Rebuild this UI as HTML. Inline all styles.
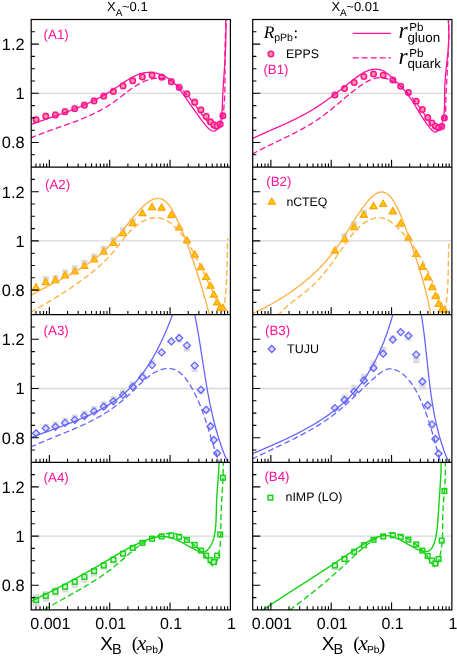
<!DOCTYPE html>
<html><head><meta charset="utf-8"><title>plot</title>
<style>html,body{margin:0;padding:0;background:#fff}svg{display:block}text{font-family:"Liberation Sans",sans-serif;fill:#000;text-rendering:geometricPrecision}.s{font-family:"Liberation Serif",serif;font-style:italic}.p{fill:#ff1199}</style></head>
<body>
<svg width="457" height="656" viewBox="0 0 457 656">
<rect width="457" height="656" fill="#fff"/>
<defs>
<clipPath id="c00"><rect x="31.2" y="19.50" width="199.20" height="147.60"/></clipPath>
<clipPath id="m00"><rect x="31.2" y="19.00" width="199.20" height="148.80"/></clipPath>
<clipPath id="c01"><rect x="31.2" y="167.10" width="199.20" height="147.60"/></clipPath>
<clipPath id="m01"><rect x="31.2" y="166.60" width="199.20" height="148.80"/></clipPath>
<clipPath id="c02"><rect x="31.2" y="314.70" width="199.20" height="147.60"/></clipPath>
<clipPath id="m02"><rect x="31.2" y="314.20" width="199.20" height="148.80"/></clipPath>
<clipPath id="c03"><rect x="31.2" y="462.30" width="199.20" height="147.60"/></clipPath>
<clipPath id="m03"><rect x="31.2" y="461.80" width="199.20" height="148.80"/></clipPath>
<clipPath id="c10"><rect x="252.7" y="19.50" width="199.20" height="147.60"/></clipPath>
<clipPath id="m10"><rect x="252.7" y="19.00" width="199.20" height="148.80"/></clipPath>
<clipPath id="c11"><rect x="252.7" y="167.10" width="199.20" height="147.60"/></clipPath>
<clipPath id="m11"><rect x="252.7" y="166.60" width="199.20" height="148.80"/></clipPath>
<clipPath id="c12"><rect x="252.7" y="314.70" width="199.20" height="147.60"/></clipPath>
<clipPath id="m12"><rect x="252.7" y="314.20" width="199.20" height="148.80"/></clipPath>
<clipPath id="c13"><rect x="252.7" y="462.30" width="199.20" height="147.60"/></clipPath>
<clipPath id="m13"><rect x="252.7" y="461.80" width="199.20" height="148.80"/></clipPath>
</defs>
<g clip-path="url(#c00)">
<line x1="31.2" x2="230.4" y1="93.30" y2="93.30" stroke="#d9d9d9" stroke-width="1.3"/>
</g>
<g clip-path="url(#m00)">
<rect x="33.00" y="115.50" width="6.2" height="4.20" fill="#dcdcdc"/>
<rect x="42.66" y="112.10" width="6.2" height="4.20" fill="#dcdcdc"/>
<rect x="52.32" y="110.90" width="6.2" height="4.20" fill="#dcdcdc"/>
<rect x="61.98" y="107.60" width="6.2" height="4.20" fill="#dcdcdc"/>
<rect x="71.64" y="104.50" width="6.2" height="4.20" fill="#dcdcdc"/>
<rect x="81.30" y="101.00" width="6.2" height="4.20" fill="#dcdcdc"/>
<rect x="90.96" y="96.80" width="6.2" height="4.20" fill="#dcdcdc"/>
<rect x="100.62" y="92.10" width="6.2" height="4.20" fill="#dcdcdc"/>
<rect x="110.28" y="87.20" width="6.2" height="4.20" fill="#dcdcdc"/>
<rect x="119.94" y="81.90" width="6.2" height="4.20" fill="#dcdcdc"/>
<rect x="129.60" y="76.50" width="6.2" height="4.20" fill="#dcdcdc"/>
<rect x="139.26" y="72.70" width="6.2" height="4.20" fill="#dcdcdc"/>
<rect x="148.92" y="71.00" width="6.2" height="4.20" fill="#dcdcdc"/>
<rect x="158.58" y="73.00" width="6.2" height="4.20" fill="#dcdcdc"/>
<rect x="168.24" y="77.60" width="6.2" height="4.20" fill="#dcdcdc"/>
<rect x="176.10" y="83.20" width="6.2" height="4.20" fill="#dcdcdc"/>
<rect x="183.80" y="89.70" width="6.2" height="4.20" fill="#dcdcdc"/>
<rect x="191.60" y="98.10" width="6.2" height="4.20" fill="#dcdcdc"/>
<rect x="197.80" y="105.90" width="6.2" height="4.20" fill="#dcdcdc"/>
<rect x="203.10" y="112.30" width="6.2" height="4.20" fill="#dcdcdc"/>
<rect x="207.40" y="117.70" width="6.2" height="4.20" fill="#dcdcdc"/>
<rect x="210.80" y="120.80" width="6.2" height="4.20" fill="#dcdcdc"/>
<rect x="214.00" y="121.70" width="6.2" height="4.20" fill="#dcdcdc"/>
<rect x="217.10" y="120.00" width="6.2" height="4.20" fill="#dcdcdc"/>
<rect x="219.80" y="111.60" width="6.2" height="4.20" fill="#dcdcdc"/>
<circle cx="36.10" cy="119.70" r="2.75" fill="#ff9590" stroke="#ff1199" stroke-width="1.5"/>
<circle cx="45.76" cy="116.30" r="2.75" fill="#ff9590" stroke="#ff1199" stroke-width="1.5"/>
<circle cx="55.42" cy="115.10" r="2.75" fill="#ff9590" stroke="#ff1199" stroke-width="1.5"/>
<circle cx="65.08" cy="111.80" r="2.75" fill="#ff9590" stroke="#ff1199" stroke-width="1.5"/>
<circle cx="74.74" cy="108.70" r="2.75" fill="#ff9590" stroke="#ff1199" stroke-width="1.5"/>
<circle cx="84.40" cy="105.20" r="2.75" fill="#ff9590" stroke="#ff1199" stroke-width="1.5"/>
<circle cx="94.06" cy="101.00" r="2.75" fill="#ff9590" stroke="#ff1199" stroke-width="1.5"/>
<circle cx="103.72" cy="96.30" r="2.75" fill="#ff9590" stroke="#ff1199" stroke-width="1.5"/>
<circle cx="113.38" cy="91.40" r="2.75" fill="#ff9590" stroke="#ff1199" stroke-width="1.5"/>
<circle cx="123.04" cy="86.10" r="2.75" fill="#ff9590" stroke="#ff1199" stroke-width="1.5"/>
<circle cx="132.70" cy="80.70" r="2.75" fill="#ff9590" stroke="#ff1199" stroke-width="1.5"/>
<circle cx="142.36" cy="76.90" r="2.75" fill="#ff9590" stroke="#ff1199" stroke-width="1.5"/>
<circle cx="152.02" cy="75.20" r="2.75" fill="#ff9590" stroke="#ff1199" stroke-width="1.5"/>
<circle cx="161.68" cy="77.20" r="2.75" fill="#ff9590" stroke="#ff1199" stroke-width="1.5"/>
<circle cx="171.34" cy="81.80" r="2.75" fill="#ff9590" stroke="#ff1199" stroke-width="1.5"/>
<circle cx="179.20" cy="87.40" r="2.75" fill="#ff9590" stroke="#ff1199" stroke-width="1.5"/>
<circle cx="186.90" cy="93.90" r="2.75" fill="#ff9590" stroke="#ff1199" stroke-width="1.5"/>
<circle cx="194.70" cy="102.30" r="2.75" fill="#ff9590" stroke="#ff1199" stroke-width="1.5"/>
<circle cx="200.90" cy="110.10" r="2.75" fill="#ff9590" stroke="#ff1199" stroke-width="1.5"/>
<circle cx="206.20" cy="116.50" r="2.75" fill="#ff9590" stroke="#ff1199" stroke-width="1.5"/>
<circle cx="210.50" cy="121.90" r="2.75" fill="#ff9590" stroke="#ff1199" stroke-width="1.5"/>
<circle cx="213.90" cy="125.00" r="2.75" fill="#ff9590" stroke="#ff1199" stroke-width="1.5"/>
<circle cx="217.10" cy="125.90" r="2.75" fill="#ff9590" stroke="#ff1199" stroke-width="1.5"/>
<circle cx="220.20" cy="124.20" r="2.75" fill="#ff9590" stroke="#ff1199" stroke-width="1.5"/>
<circle cx="222.90" cy="115.80" r="2.75" fill="#ff9590" stroke="#ff1199" stroke-width="1.5"/>
</g>
<g clip-path="url(#c00)" fill="none" stroke="#ff1199" stroke-width="1.3" stroke-linejoin="round">
<path d="M31.20,124.50L32.64,123.97L34.08,123.45L35.52,122.94L36.96,122.42L38.39,121.91L39.83,121.41L41.26,120.90L42.69,120.40L44.13,119.90L45.55,119.40L46.98,118.90L48.41,118.41L49.84,117.91L51.26,117.42L52.68,116.92L54.10,116.42L55.52,115.93L56.94,115.43L58.35,114.93L59.77,114.43L61.18,113.93L62.59,113.42L64.00,112.91L65.40,112.40L66.81,111.89L68.21,111.37L69.61,110.84L71.00,110.31L72.40,109.78L73.79,109.24L75.18,108.70L76.57,108.15L77.95,107.59L79.34,107.03L80.72,106.46L82.09,105.88L83.47,105.30L84.84,104.71L86.21,104.11L87.58,103.50L88.94,102.88L90.30,102.25L91.66,101.61L93.01,100.96L94.37,100.30L95.71,99.64L97.06,98.95L98.40,98.26L99.74,97.56L101.08,96.84L102.41,96.12L103.74,95.37L105.06,94.62L106.39,93.85L107.70,93.07L109.02,92.27L110.33,91.46L111.64,90.64L112.94,89.80L114.24,88.94L115.54,88.07L116.83,87.19L118.12,86.31L119.42,85.42L120.71,84.53L122.00,83.65L123.29,82.77L124.58,81.91L125.87,81.06L127.17,80.23L128.47,79.43L129.78,78.64L131.09,77.89L132.40,77.17L133.73,76.49L135.06,75.84L136.39,75.24L137.74,74.69L139.09,74.18L140.45,73.73L141.83,73.34L143.21,73.01L144.61,72.74L146.02,72.54L147.44,72.41L148.87,72.36L150.32,72.38L151.78,72.48L153.24,72.65L154.71,72.89L156.17,73.20L157.63,73.58L159.09,74.02L160.53,74.53L161.96,75.10L163.37,75.73L164.76,76.42L166.13,77.16L167.47,77.96L168.77,78.81L170.05,79.72L171.28,80.67L172.48,81.67L173.63,82.71L174.75,83.80L175.83,84.91L176.87,86.06L177.89,87.23L178.87,88.42L179.83,89.63L180.77,90.85L181.68,92.08L182.57,93.31L183.44,94.54L184.30,95.76L185.14,96.97L185.97,98.17L186.79,99.35L187.61,100.53L188.41,101.69L189.22,102.85L190.03,104.01L190.83,105.17L191.64,106.33L192.46,107.49L193.28,108.66L194.12,109.84L194.96,111.03L195.82,112.24L196.70,113.46L197.60,114.70L198.52,115.96L199.46,117.25L200.42,118.56L201.42,119.90L202.44,121.28L203.50,122.68L204.58,124.08L205.69,125.44L206.82,126.74L207.97,127.93L209.13,128.99L210.29,129.86L211.47,130.53L212.64,130.95L213.80,131.10L214.91,130.92L215.92,130.40L216.83,129.58L217.65,128.54L218.37,127.32L219.02,125.97L219.59,124.57L220.08,123.15L220.51,121.70L220.88,120.23L221.19,118.75L221.45,117.25L221.66,115.73L221.84,114.21L221.98,112.68L222.09,111.14L222.18,109.59L222.25,108.04L222.31,106.49L222.36,104.95L222.41,103.40L222.46,101.86L222.52,100.33L222.58,98.80L222.65,97.28L222.72,95.76L222.80,94.25L222.88,92.74L222.96,91.24L223.04,89.73L223.13,88.24L223.22,86.74L223.31,85.25L223.41,83.76L223.50,82.28L223.60,80.79L223.70,79.31L223.80,77.83L223.90,76.36L224.00,74.88L224.10,73.41L224.20,71.93L224.30,70.46L224.40,68.99L224.49,67.51L224.59,66.04L224.69,64.57L224.78,63.09L224.87,61.62L224.96,60.14L225.05,58.67L225.13,57.19L225.22,55.71L225.29,54.22L225.37,52.74L225.44,51.25L225.51,49.76L225.57,48.27L225.63,46.77L225.68,45.27L225.73,43.77L225.77,42.26L225.81,40.75L225.84,39.23L225.87,37.71L225.89,36.19L225.90,34.66L225.90,33.12L225.90,31.58L225.89,30.03L225.88,28.47L225.85,26.91L225.82,25.34L225.78,23.77L225.73,22.19L225.67,20.60L225.60,19.00"/>
<path d="M31.20,137.70L32.60,137.12L34.00,136.55L35.41,135.99L36.81,135.44L38.22,134.89L39.63,134.35L41.05,133.81L42.46,133.28L43.88,132.76L45.30,132.24L46.72,131.72L48.14,131.21L49.56,130.70L50.98,130.20L52.40,129.69L53.82,129.19L55.25,128.69L56.67,128.19L58.09,127.69L59.51,127.19L60.93,126.69L62.35,126.19L63.77,125.69L65.19,125.19L66.61,124.68L68.02,124.17L69.43,123.66L70.84,123.15L72.25,122.63L73.66,122.10L75.06,121.57L76.47,121.04L77.87,120.50L79.26,119.95L80.65,119.40L82.04,118.84L83.43,118.27L84.81,117.69L86.19,117.11L87.56,116.51L88.93,115.91L90.30,115.29L91.66,114.67L93.01,114.03L94.36,113.38L95.71,112.72L97.05,112.05L98.38,111.37L99.71,110.67L101.03,109.96L102.35,109.23L103.66,108.49L104.96,107.74L106.26,106.96L107.55,106.18L108.83,105.37L110.11,104.55L111.38,103.71L112.64,102.86L113.89,101.98L115.14,101.09L116.38,100.18L117.61,99.27L118.84,98.34L120.07,97.40L121.29,96.46L122.51,95.52L123.73,94.57L124.95,93.63L126.17,92.70L127.39,91.77L128.62,90.85L129.85,89.95L131.08,89.06L132.32,88.19L133.57,87.34L134.82,86.51L136.08,85.70L137.35,84.92L138.63,84.18L139.93,83.46L141.23,82.78L142.55,82.14L143.88,81.54L145.23,80.98L146.59,80.47L147.96,80.00L149.36,79.58L150.77,79.22L152.21,78.91L153.66,78.66L155.13,78.47L156.61,78.34L158.09,78.27L159.58,78.28L161.07,78.35L162.55,78.50L164.02,78.72L165.49,79.01L166.93,79.39L168.35,79.85L169.75,80.40L171.12,81.03L172.46,81.75L173.77,82.55L175.05,83.43L176.29,84.37L177.51,85.37L178.70,86.42L179.86,87.50L181.00,88.62L182.11,89.76L183.19,90.92L184.26,92.08L185.30,93.24L186.31,94.39L187.31,95.52L188.29,96.63L189.25,97.72L190.20,98.80L191.12,99.88L192.04,100.96L192.93,102.05L193.82,103.16L194.69,104.29L195.55,105.44L196.40,106.62L197.25,107.81L198.10,109.03L198.96,110.25L199.83,111.50L200.71,112.74L201.60,114.00L202.52,115.26L203.47,116.52L204.44,117.79L205.45,119.04L206.49,120.30L207.57,121.54L208.66,122.79L209.78,124.04L210.90,125.29L212.02,126.51L213.14,127.59L214.24,128.40L215.32,128.84L216.37,128.85L217.37,128.43L218.30,127.67L219.14,126.71L219.88,125.62L220.53,124.44L221.10,123.17L221.60,121.83L222.02,120.41L222.38,118.94L222.69,117.42L222.96,115.86L223.18,114.28L223.38,112.68L223.55,111.08L223.71,109.48L223.85,107.89L223.99,106.31L224.11,104.74L224.22,103.18L224.33,101.63L224.42,100.09L224.51,98.56L224.59,97.03L224.66,95.52L224.72,94.01L224.78,92.50L224.83,91.01L224.87,89.52L224.90,88.03L224.93,86.55L224.96,85.08L224.98,83.61L225.00,82.14L225.01,80.68L225.01,79.22L225.02,77.76L225.02,76.31L225.02,74.86L225.02,73.41L225.01,71.96L225.01,70.51L225.00,69.06L224.99,67.61L224.98,66.17L224.97,64.72L224.97,63.27L224.96,61.82L224.95,60.36L224.95,58.91L224.95,57.45L224.95,55.99L224.95,54.53L224.96,53.06L224.97,51.59L224.98,50.11L225.00,48.63L225.02,47.14L225.05,45.65L225.09,44.15L225.13,42.64L225.17,41.13L225.23,39.61L225.29,38.08L225.35,36.54L225.43,35.00L225.51,33.45L225.61,31.88L225.71,30.31L225.82,28.73L225.94,27.14L226.07,25.53L226.21,23.92L226.36,22.29L226.52,20.65L226.70,19.00" stroke-dasharray="6 3" stroke-dashoffset="0.8"/>
</g>
<g clip-path="url(#c01)">
<line x1="31.2" x2="230.4" y1="240.90" y2="240.90" stroke="#d9d9d9" stroke-width="1.3"/>
</g>
<g clip-path="url(#m01)">
<rect x="42.66" y="276.00" width="6.2" height="5.20" fill="#dcdcdc"/>
<rect x="52.32" y="275.10" width="6.2" height="4.20" fill="#dcdcdc"/>
<rect x="61.98" y="269.40" width="6.2" height="5.20" fill="#dcdcdc"/>
<rect x="71.64" y="265.30" width="6.2" height="5.20" fill="#dcdcdc"/>
<rect x="81.30" y="259.90" width="6.2" height="5.20" fill="#dcdcdc"/>
<rect x="90.96" y="253.40" width="6.2" height="5.20" fill="#dcdcdc"/>
<rect x="100.62" y="245.60" width="6.2" height="5.20" fill="#dcdcdc"/>
<rect x="110.28" y="236.90" width="6.2" height="5.20" fill="#dcdcdc"/>
<rect x="119.94" y="227.10" width="6.2" height="5.20" fill="#dcdcdc"/>
<rect x="129.60" y="217.70" width="6.2" height="4.60" fill="#dcdcdc"/>
<rect x="158.58" y="206.80" width="6.2" height="4.60" fill="#dcdcdc"/>
<rect x="168.24" y="214.10" width="6.2" height="4.60" fill="#dcdcdc"/>
<rect x="176.10" y="226.60" width="6.2" height="4.60" fill="#dcdcdc"/>
<rect x="183.80" y="239.40" width="6.2" height="4.60" fill="#dcdcdc"/>
<rect x="191.60" y="253.80" width="6.2" height="4.60" fill="#dcdcdc"/>
<path d="M36.10,283.80L39.55,289.80L32.65,289.80Z" fill="#ffcc00" stroke="#ffa500" stroke-width="1.3" stroke-linejoin="miter"/>
<path d="M45.76,278.50L49.21,284.50L42.31,284.50Z" fill="#ffcc00" stroke="#ffa500" stroke-width="1.3" stroke-linejoin="miter"/>
<path d="M55.42,276.60L58.87,282.60L51.97,282.60Z" fill="#ffcc00" stroke="#ffa500" stroke-width="1.3" stroke-linejoin="miter"/>
<path d="M65.08,271.90L68.53,277.90L61.63,277.90Z" fill="#ffcc00" stroke="#ffa500" stroke-width="1.3" stroke-linejoin="miter"/>
<path d="M74.74,267.80L78.19,273.80L71.29,273.80Z" fill="#ffcc00" stroke="#ffa500" stroke-width="1.3" stroke-linejoin="miter"/>
<path d="M84.40,262.40L87.85,268.40L80.95,268.40Z" fill="#ffcc00" stroke="#ffa500" stroke-width="1.3" stroke-linejoin="miter"/>
<path d="M94.06,255.90L97.51,261.90L90.61,261.90Z" fill="#ffcc00" stroke="#ffa500" stroke-width="1.3" stroke-linejoin="miter"/>
<path d="M103.72,248.10L107.17,254.10L100.27,254.10Z" fill="#ffcc00" stroke="#ffa500" stroke-width="1.3" stroke-linejoin="miter"/>
<path d="M113.38,239.40L116.83,245.40L109.93,245.40Z" fill="#ffcc00" stroke="#ffa500" stroke-width="1.3" stroke-linejoin="miter"/>
<path d="M123.04,229.60L126.49,235.60L119.59,235.60Z" fill="#ffcc00" stroke="#ffa500" stroke-width="1.3" stroke-linejoin="miter"/>
<path d="M132.70,219.60L136.15,225.60L129.25,225.60Z" fill="#ffcc00" stroke="#ffa500" stroke-width="1.3" stroke-linejoin="miter"/>
<path d="M142.36,209.70L145.81,215.70L138.91,215.70Z" fill="#ffcc00" stroke="#ffa500" stroke-width="1.3" stroke-linejoin="miter"/>
<path d="M152.02,203.60L155.47,209.60L148.57,209.60Z" fill="#ffcc00" stroke="#ffa500" stroke-width="1.3" stroke-linejoin="miter"/>
<path d="M161.68,204.10L165.13,210.10L158.23,210.10Z" fill="#ffcc00" stroke="#ffa500" stroke-width="1.3" stroke-linejoin="miter"/>
<path d="M171.34,211.40L174.79,217.40L167.89,217.40Z" fill="#ffcc00" stroke="#ffa500" stroke-width="1.3" stroke-linejoin="miter"/>
<path d="M179.20,223.90L182.65,229.90L175.75,229.90Z" fill="#ffcc00" stroke="#ffa500" stroke-width="1.3" stroke-linejoin="miter"/>
<path d="M186.90,236.70L190.35,242.70L183.45,242.70Z" fill="#ffcc00" stroke="#ffa500" stroke-width="1.3" stroke-linejoin="miter"/>
<path d="M194.70,251.10L198.15,257.10L191.25,257.10Z" fill="#ffcc00" stroke="#ffa500" stroke-width="1.3" stroke-linejoin="miter"/>
<path d="M200.90,263.70L204.35,269.70L197.45,269.70Z" fill="#ffcc00" stroke="#ffa500" stroke-width="1.3" stroke-linejoin="miter"/>
<path d="M206.20,273.30L209.65,279.30L202.75,279.30Z" fill="#ffcc00" stroke="#ffa500" stroke-width="1.3" stroke-linejoin="miter"/>
<path d="M210.50,282.20L213.95,288.20L207.05,288.20Z" fill="#ffcc00" stroke="#ffa500" stroke-width="1.3" stroke-linejoin="miter"/>
<path d="M213.90,291.00L217.35,297.00L210.45,297.00Z" fill="#ffcc00" stroke="#ffa500" stroke-width="1.3" stroke-linejoin="miter"/>
<path d="M217.10,298.90L220.55,304.90L213.65,304.90Z" fill="#ffcc00" stroke="#ffa500" stroke-width="1.3" stroke-linejoin="miter"/>
<path d="M220.20,304.20L223.65,310.20L216.75,310.20Z" fill="#ffcc00" stroke="#ffa500" stroke-width="1.3" stroke-linejoin="miter"/>
<path d="M222.90,304.30L226.35,310.30L219.45,310.30Z" fill="#ffcc00" stroke="#ffa500" stroke-width="1.3" stroke-linejoin="miter"/>
</g>
<g clip-path="url(#c01)" fill="none" stroke="#ffb145" stroke-width="1.35" stroke-linejoin="round">
<path d="M31.20,295.10L32.49,294.38L33.79,293.66L35.10,292.94L36.41,292.23L37.73,291.52L39.05,290.82L40.38,290.12L41.71,289.42L43.04,288.72L44.38,288.03L45.72,287.34L47.07,286.64L48.42,285.95L49.76,285.26L51.12,284.57L52.47,283.87L53.82,283.18L55.17,282.49L56.53,281.79L57.88,281.09L59.24,280.39L60.59,279.69L61.94,278.99L63.29,278.28L64.64,277.56L65.98,276.85L67.32,276.13L68.66,275.40L70.00,274.67L71.33,273.93L72.66,273.19L73.99,272.44L75.30,271.68L76.62,270.92L77.93,270.15L79.23,269.37L80.52,268.58L81.81,267.79L83.10,266.99L84.37,266.17L85.64,265.35L86.90,264.52L88.15,263.68L89.39,262.82L90.62,261.96L91.84,261.08L93.05,260.19L94.26,259.29L95.45,258.38L96.63,257.46L97.80,256.52L98.95,255.57L100.10,254.60L101.23,253.62L102.35,252.63L103.46,251.62L104.55,250.59L105.63,249.55L106.69,248.50L107.75,247.43L108.79,246.35L109.83,245.25L110.85,244.15L111.87,243.03L112.87,241.91L113.87,240.77L114.86,239.63L115.85,238.48L116.83,237.32L117.80,236.16L118.77,234.99L119.74,233.82L120.71,232.64L121.67,231.46L122.63,230.27L123.59,229.08L124.55,227.90L125.51,226.71L126.47,225.52L127.44,224.33L128.40,223.14L129.37,221.96L130.35,220.78L131.33,219.60L132.31,218.43L133.31,217.26L134.30,216.10L135.31,214.95L136.32,213.80L137.35,212.66L138.38,211.53L139.42,210.41L140.48,209.29L141.54,208.19L142.62,207.10L143.71,206.03L144.82,204.98L145.95,203.96L147.09,203.00L148.26,202.09L149.45,201.25L150.68,200.50L151.93,199.85L153.21,199.30L154.53,198.87L155.89,198.58L157.26,198.43L158.63,198.43L159.96,198.60L161.23,198.94L162.46,199.44L163.63,200.07L164.76,200.84L165.85,201.72L166.89,202.71L167.89,203.80L168.86,204.96L169.79,206.20L170.68,207.51L171.54,208.86L172.38,210.26L173.18,211.70L173.96,213.16L174.71,214.63L175.44,216.11L176.16,217.58L176.85,219.03L177.53,220.48L178.19,221.91L178.83,223.33L179.46,224.74L180.08,226.13L180.68,227.52L181.27,228.91L181.85,230.28L182.42,231.66L182.98,233.02L183.53,234.39L184.08,235.75L184.62,237.12L185.15,238.48L185.67,239.85L186.20,241.22L186.71,242.59L187.23,243.97L187.74,245.35L188.25,246.74L188.76,248.13L189.27,249.53L189.77,250.93L190.27,252.34L190.77,253.75L191.27,255.17L191.76,256.59L192.25,258.01L192.74,259.44L193.23,260.87L193.71,262.30L194.19,263.74L194.67,265.18L195.15,266.62L195.62,268.06L196.09,269.51L196.56,270.96L197.03,272.41L197.49,273.86L197.95,275.32L198.41,276.77L198.87,278.23L199.32,279.69L199.77,281.15L200.22,282.61L200.66,284.07L201.11,285.53L201.55,286.99L201.98,288.45L202.42,289.91L202.85,291.37L203.28,292.83L203.71,294.29L204.13,295.75L204.56,297.21L204.97,298.67L205.39,300.12L205.81,301.58L206.22,303.03L206.63,304.48L207.03,305.93L207.44,307.38L207.84,308.82L208.23,310.26L208.63,311.70L209.02,313.14L209.41,314.57L209.80,316.00"/>
<path d="M31.20,312.00L32.53,311.24L33.86,310.48L35.19,309.72L36.51,308.96L37.83,308.20L39.14,307.44L40.45,306.68L41.76,305.92L43.07,305.16L44.37,304.39L45.67,303.63L46.96,302.86L48.26,302.09L49.54,301.32L50.83,300.55L52.11,299.77L53.39,299.00L54.67,298.22L55.94,297.43L57.21,296.65L58.48,295.86L59.75,295.06L61.01,294.27L62.27,293.47L63.52,292.66L64.77,291.86L66.02,291.04L67.27,290.23L68.52,289.40L69.76,288.58L71.00,287.74L72.23,286.91L73.46,286.06L74.69,285.22L75.92,284.36L77.15,283.50L78.37,282.64L79.59,281.76L80.80,280.88L82.02,280.00L83.23,279.10L84.44,278.20L85.64,277.29L86.85,276.38L88.05,275.46L89.24,274.53L90.43,273.59L91.62,272.64L92.80,271.68L93.97,270.72L95.14,269.75L96.30,268.76L97.45,267.77L98.60,266.77L99.74,265.76L100.86,264.74L101.98,263.71L103.09,262.67L104.19,261.62L105.28,260.56L106.35,259.49L107.41,258.40L108.47,257.31L109.50,256.20L110.53,255.09L111.54,253.96L112.54,252.82L113.52,251.67L114.48,250.50L115.43,249.33L116.37,248.14L117.31,246.95L118.23,245.76L119.15,244.56L120.06,243.37L120.98,242.17L121.89,240.98L122.81,239.79L123.73,238.61L124.66,237.44L125.60,236.28L126.56,235.13L127.52,234.00L128.51,232.88L129.51,231.79L130.53,230.72L131.57,229.67L132.64,228.64L133.73,227.64L134.86,226.68L136.01,225.74L137.20,224.84L138.42,223.97L139.68,223.14L140.98,222.35L142.32,221.60L143.70,220.89L145.12,220.24L146.57,219.64L148.04,219.11L149.53,218.65L151.03,218.26L152.52,217.97L154.02,217.77L155.50,217.67L156.96,217.68L158.40,217.79L159.82,218.02L161.21,218.34L162.58,218.76L163.93,219.26L165.25,219.85L166.55,220.52L167.83,221.26L169.08,222.06L170.31,222.93L171.52,223.85L172.70,224.82L173.85,225.84L174.98,226.90L176.09,227.99L177.17,229.11L178.23,230.26L179.27,231.42L180.28,232.59L181.26,233.78L182.22,234.98L183.16,236.19L184.08,237.41L184.98,238.64L185.86,239.88L186.72,241.13L187.56,242.39L188.38,243.66L189.19,244.93L189.98,246.21L190.76,247.50L191.52,248.80L192.27,250.10L193.00,251.41L193.73,252.72L194.44,254.04L195.14,255.36L195.84,256.68L196.52,258.01L197.20,259.34L197.87,260.67L198.54,262.01L199.20,263.34L199.85,264.67L200.50,266.01L201.15,267.34L201.79,268.68L202.44,270.01L203.08,271.35L203.72,272.68L204.36,274.02L205.00,275.36L205.63,276.70L206.27,278.04L206.91,279.39L207.54,280.74L208.18,282.09L208.82,283.45L209.46,284.82L210.10,286.19L210.74,287.57L211.38,288.96L212.03,290.35L212.68,291.75L213.33,293.16L213.98,294.58L214.64,296.01L215.29,297.45L215.96,298.90L216.62,300.36L217.30,301.83L217.97,303.31L218.65,304.79L219.31,306.23L219.97,307.61L220.60,308.90L221.20,310.08L221.77,311.01L222.30,311.50L222.77,311.40L223.19,310.79L223.55,309.81L223.86,308.54L224.13,307.05L224.36,305.41L224.58,303.71L224.78,302.01L224.96,300.33L225.14,298.67L225.31,297.03L225.46,295.41L225.61,293.80L225.75,292.20L225.87,290.63L225.99,289.06L226.11,287.52L226.21,285.98L226.31,284.45L226.40,282.94L226.48,281.43L226.56,279.94L226.63,278.45L226.69,276.97L226.75,275.49L226.81,274.03L226.86,272.56L226.91,271.10L226.95,269.65L226.99,268.19L227.03,266.74L227.06,265.28L227.10,263.83L227.13,262.37L227.16,260.92L227.19,259.46L227.22,257.99L227.24,256.52L227.27,255.05L227.30,253.57L227.33,252.08L227.36,250.58L227.39,249.07L227.43,247.56L227.47,246.03L227.51,244.49L227.55,242.94L227.60,241.37L227.65,239.79L227.70,238.20" stroke-dasharray="6 3" stroke-dashoffset="0.8"/>
</g>
<g clip-path="url(#c02)">
<line x1="31.2" x2="230.4" y1="388.50" y2="388.50" stroke="#d9d9d9" stroke-width="1.3"/>
</g>
<g clip-path="url(#m02)">
<rect x="42.66" y="424.30" width="6.2" height="4.00" fill="#dcdcdc"/>
<rect x="52.32" y="421.30" width="6.2" height="5.50" fill="#dcdcdc"/>
<rect x="61.98" y="417.40" width="6.2" height="5.50" fill="#dcdcdc"/>
<rect x="71.64" y="414.40" width="6.2" height="5.50" fill="#dcdcdc"/>
<rect x="81.30" y="410.50" width="6.2" height="5.50" fill="#dcdcdc"/>
<rect x="90.96" y="405.90" width="6.2" height="5.50" fill="#dcdcdc"/>
<rect x="100.62" y="401.20" width="6.2" height="5.50" fill="#dcdcdc"/>
<rect x="110.28" y="395.80" width="6.2" height="5.50" fill="#dcdcdc"/>
<rect x="119.94" y="389.40" width="6.2" height="5.50" fill="#dcdcdc"/>
<rect x="129.60" y="381.30" width="6.2" height="5.50" fill="#dcdcdc"/>
<rect x="139.26" y="371.80" width="6.2" height="5.50" fill="#dcdcdc"/>
<rect x="148.92" y="359.60" width="6.2" height="5.50" fill="#dcdcdc"/>
<rect x="176.10" y="338.00" width="6.2" height="4.20" fill="#dcdcdc"/>
<rect x="183.80" y="345.40" width="6.2" height="6.10" fill="#dcdcdc"/>
<rect x="191.60" y="365.60" width="6.2" height="6.40" fill="#dcdcdc"/>
<rect x="197.80" y="389.80" width="6.2" height="4.50" fill="#dcdcdc"/>
<rect x="203.10" y="409.80" width="6.2" height="3.00" fill="#dcdcdc"/>
<path d="M36.10,429.80L39.60,433.30L36.10,436.80L32.60,433.30Z" fill="#dcdcff" stroke="#6464ff" stroke-width="1.3"/>
<path d="M45.76,424.80L49.26,428.30L45.76,431.80L42.26,428.30Z" fill="#dcdcff" stroke="#6464ff" stroke-width="1.3"/>
<path d="M55.42,423.30L58.92,426.80L55.42,430.30L51.92,426.80Z" fill="#dcdcff" stroke="#6464ff" stroke-width="1.3"/>
<path d="M65.08,419.40L68.58,422.90L65.08,426.40L61.58,422.90Z" fill="#dcdcff" stroke="#6464ff" stroke-width="1.3"/>
<path d="M74.74,416.40L78.24,419.90L74.74,423.40L71.24,419.90Z" fill="#dcdcff" stroke="#6464ff" stroke-width="1.3"/>
<path d="M84.40,412.50L87.90,416.00L84.40,419.50L80.90,416.00Z" fill="#dcdcff" stroke="#6464ff" stroke-width="1.3"/>
<path d="M94.06,407.90L97.56,411.40L94.06,414.90L90.56,411.40Z" fill="#dcdcff" stroke="#6464ff" stroke-width="1.3"/>
<path d="M103.72,403.20L107.22,406.70L103.72,410.20L100.22,406.70Z" fill="#dcdcff" stroke="#6464ff" stroke-width="1.3"/>
<path d="M113.38,397.80L116.88,401.30L113.38,404.80L109.88,401.30Z" fill="#dcdcff" stroke="#6464ff" stroke-width="1.3"/>
<path d="M123.04,391.40L126.54,394.90L123.04,398.40L119.54,394.90Z" fill="#dcdcff" stroke="#6464ff" stroke-width="1.3"/>
<path d="M132.70,383.30L136.20,386.80L132.70,390.30L129.20,386.80Z" fill="#dcdcff" stroke="#6464ff" stroke-width="1.3"/>
<path d="M142.36,373.80L145.86,377.30L142.36,380.80L138.86,377.30Z" fill="#dcdcff" stroke="#6464ff" stroke-width="1.3"/>
<path d="M152.02,361.60L155.52,365.10L152.02,368.60L148.52,365.10Z" fill="#dcdcff" stroke="#6464ff" stroke-width="1.3"/>
<path d="M161.68,348.90L165.18,352.40L161.68,355.90L158.18,352.40Z" fill="#dcdcff" stroke="#6464ff" stroke-width="1.3"/>
<path d="M171.34,337.90L174.84,341.40L171.34,344.90L167.84,341.40Z" fill="#dcdcff" stroke="#6464ff" stroke-width="1.3"/>
<path d="M179.20,334.50L182.70,338.00L179.20,341.50L175.70,338.00Z" fill="#dcdcff" stroke="#6464ff" stroke-width="1.3"/>
<path d="M186.90,341.90L190.40,345.40L186.90,348.90L183.40,345.40Z" fill="#dcdcff" stroke="#6464ff" stroke-width="1.3"/>
<path d="M194.70,362.10L198.20,365.60L194.70,369.10L191.20,365.60Z" fill="#dcdcff" stroke="#6464ff" stroke-width="1.3"/>
<path d="M200.90,386.30L204.40,389.80L200.90,393.30L197.40,389.80Z" fill="#dcdcff" stroke="#6464ff" stroke-width="1.3"/>
<path d="M206.20,406.30L209.70,409.80L206.20,413.30L202.70,409.80Z" fill="#dcdcff" stroke="#6464ff" stroke-width="1.3"/>
<path d="M210.50,422.70L214.00,426.20L210.50,429.70L207.00,426.20Z" fill="#dcdcff" stroke="#6464ff" stroke-width="1.3"/>
<path d="M213.90,436.50L217.40,440.00L213.90,443.50L210.40,440.00Z" fill="#dcdcff" stroke="#6464ff" stroke-width="1.3"/>
<path d="M217.10,449.80L220.60,453.30L217.10,456.80L213.60,453.30Z" fill="#dcdcff" stroke="#6464ff" stroke-width="1.3"/>
</g>
<g clip-path="url(#c02)" fill="none" stroke="#6464ff" stroke-width="1.3" stroke-linejoin="round">
<path d="M31.20,437.70L32.56,437.15L33.92,436.61L35.29,436.08L36.67,435.54L38.05,435.01L39.44,434.48L40.83,433.95L42.23,433.43L43.64,432.90L45.05,432.38L46.46,431.85L47.88,431.33L49.30,430.81L50.72,430.28L52.15,429.76L53.58,429.24L55.02,428.71L56.45,428.18L57.89,427.66L59.33,427.13L60.77,426.60L62.21,426.06L63.65,425.52L65.09,424.98L66.53,424.44L67.97,423.89L69.41,423.34L70.85,422.79L72.28,422.23L73.72,421.66L75.15,421.09L76.58,420.52L78.01,419.94L79.44,419.35L80.86,418.76L82.28,418.16L83.69,417.55L85.10,416.94L86.51,416.32L87.91,415.69L89.31,415.06L90.70,414.41L92.08,413.76L93.46,413.10L94.83,412.43L96.19,411.75L97.55,411.06L98.90,410.36L100.24,409.65L101.58,408.93L102.90,408.20L104.22,407.46L105.53,406.71L106.83,405.94L108.12,405.16L109.40,404.37L110.67,403.57L111.92,402.76L113.17,401.93L114.41,401.09L115.63,400.23L116.84,399.37L118.04,398.48L119.23,397.58L120.41,396.67L121.57,395.74L122.72,394.80L123.85,393.84L124.97,392.87L126.08,391.88L127.17,390.87L128.25,389.86L129.32,388.82L130.38,387.77L131.42,386.71L132.45,385.64L133.46,384.55L134.46,383.45L135.46,382.33L136.43,381.21L137.40,380.07L138.35,378.92L139.30,377.75L140.23,376.58L141.15,375.39L142.05,374.20L142.95,372.99L143.83,371.77L144.71,370.55L145.57,369.31L146.42,368.06L147.26,366.81L148.09,365.54L148.91,364.27L149.72,362.98L150.52,361.69L151.31,360.39L152.09,359.09L152.85,357.77L153.61,356.45L154.36,355.12L155.10,353.79L155.83,352.45L156.55,351.10L157.27,349.75L157.97,348.39L158.66,347.03L159.35,345.66L160.03,344.28L160.69,342.91L161.35,341.52L162.00,340.14L162.65,338.75L163.28,337.35L163.91,335.96L164.53,334.56L165.14,333.16L165.75,331.75L166.35,330.35L166.94,328.94L167.52,327.53L168.09,326.12L168.66,324.71L169.23,323.29L169.78,321.88L170.33,320.47L170.87,319.05L171.41,317.64L171.94,316.23L172.47,314.82L172.98,313.41L173.50,312.00"/>
<path d="M194.20,312.00L194.51,313.48L194.82,314.97L195.12,316.46L195.41,317.95L195.70,319.43L195.99,320.93L196.27,322.42L196.55,323.91L196.83,325.40L197.10,326.90L197.37,328.39L197.63,329.89L197.90,331.39L198.15,332.89L198.41,334.38L198.66,335.88L198.91,337.38L199.16,338.89L199.41,340.39L199.65,341.89L199.90,343.39L200.14,344.90L200.37,346.40L200.61,347.90L200.85,349.41L201.08,350.91L201.32,352.42L201.55,353.92L201.78,355.43L202.02,356.93L202.25,358.44L202.48,359.94L202.71,361.45L202.95,362.96L203.18,364.46L203.41,365.97L203.65,367.47L203.88,368.98L204.12,370.48L204.35,371.99L204.59,373.49L204.83,375.00L205.07,376.50L205.32,378.00L205.56,379.51L205.81,381.01L206.06,382.51L206.31,384.01L206.57,385.51L206.82,387.01L207.08,388.51L207.35,390.01L207.62,391.50L207.89,393.00L208.16,394.50L208.44,395.99L208.72,397.49L209.00,398.98L209.29,400.47L209.59,401.96L209.89,403.45L210.19,404.94L210.50,406.42L210.81,407.91L211.13,409.39L211.45,410.88L211.78,412.36L212.12,413.84L212.46,415.32L212.80,416.79L213.16,418.27L213.51,419.74L213.88,421.21L214.25,422.69L214.63,424.15L215.02,425.62L215.41,427.09L215.81,428.55L216.22,430.01L216.63,431.47L217.05,432.93L217.48,434.38L217.92,435.84L218.37,437.29L218.83,438.74L219.29,440.18L219.76,441.63L220.24,443.07L220.73,444.51L221.23,445.95L221.74,447.38L222.26,448.82L222.79,450.25L223.33,451.67L223.87,453.10L224.43,454.52L225.00,455.94L225.58,457.36L226.17,458.77L226.77,460.18L227.38,461.59L228.00,463.00"/>
<path d="M31.20,446.90L32.54,446.28L33.88,445.67L35.24,445.06L36.60,444.45L37.96,443.85L39.33,443.25L40.71,442.66L42.09,442.07L43.48,441.48L44.87,440.90L46.27,440.32L47.67,439.74L49.08,439.16L50.49,438.58L51.90,438.01L53.31,437.43L54.73,436.86L56.14,436.28L57.56,435.71L58.98,435.13L60.41,434.56L61.83,433.98L63.25,433.40L64.67,432.82L66.09,432.24L67.51,431.66L68.93,431.07L70.35,430.48L71.77,429.89L73.18,429.29L74.59,428.69L76.00,428.08L77.40,427.47L78.80,426.86L80.20,426.24L81.59,425.61L82.98,424.98L84.36,424.34L85.74,423.70L87.11,423.04L88.47,422.39L89.83,421.72L91.18,421.04L92.53,420.36L93.86,419.67L95.19,418.97L96.51,418.26L97.82,417.55L99.13,416.82L100.42,416.08L101.70,415.33L102.98,414.57L104.24,413.80L105.49,413.02L106.74,412.23L107.97,411.43L109.19,410.61L110.41,409.78L111.61,408.94L112.81,408.09L114.01,407.22L115.19,406.35L116.37,405.46L117.54,404.55L118.71,403.64L119.87,402.71L121.02,401.77L122.18,400.81L123.32,399.84L124.47,398.86L125.61,397.86L126.75,396.85L127.89,395.82L129.02,394.78L130.15,393.72L131.29,392.65L132.42,391.56L133.55,390.46L134.68,389.35L135.82,388.23L136.96,387.11L138.10,385.99L139.24,384.86L140.40,383.75L141.56,382.65L142.72,381.56L143.90,380.49L145.08,379.44L146.28,378.42L147.48,377.43L148.70,376.47L149.93,375.54L151.18,374.66L152.44,373.82L153.72,373.03L155.01,372.29L156.33,371.60L157.66,370.98L159.01,370.42L160.38,369.92L161.77,369.49L163.17,369.14L164.57,368.87L165.98,368.68L167.38,368.57L168.78,368.55L170.16,368.63L171.53,368.80L172.87,369.07L174.19,369.45L175.48,369.94L176.73,370.54L177.94,371.24L179.12,372.05L180.27,372.94L181.38,373.92L182.46,374.97L183.51,376.08L184.52,377.25L185.51,378.46L186.47,379.72L187.39,381.00L188.30,382.30L189.17,383.64L190.02,384.99L190.85,386.35L191.65,387.73L192.44,389.12L193.20,390.52L193.94,391.92L194.66,393.32L195.36,394.72L196.04,396.12L196.70,397.52L197.35,398.92L197.99,400.32L198.60,401.72L199.20,403.13L199.79,404.53L200.37,405.93L200.93,407.34L201.47,408.74L202.01,410.15L202.54,411.56L203.05,412.96L203.56,414.37L204.06,415.78L204.54,417.19L205.02,418.60L205.50,420.01L205.96,421.43L206.42,422.84L206.88,424.26L207.33,425.67L207.78,427.09L208.22,428.51L208.66,429.93L209.10,431.35L209.54,432.77L209.98,434.19L210.42,435.62L210.86,437.05L211.30,438.47L211.74,439.90L212.18,441.33L212.63,442.77L213.08,444.20L213.54,445.64L214.00,447.07L214.46,448.51L214.94,449.95L215.42,451.39L215.91,452.84L216.40,454.28L216.91,455.73L217.43,457.18L217.95,458.63L218.49,460.09L219.04,461.54L219.60,463.00" stroke-dasharray="6 3" stroke-dashoffset="0.8"/>
</g>
<g clip-path="url(#c03)">
<line x1="31.2" x2="230.4" y1="536.10" y2="536.10" stroke="#d9d9d9" stroke-width="1.3"/>
</g>
<g clip-path="url(#m03)">
<rect x="33.00" y="594.10" width="6.2" height="12.20" fill="#dcdcdc"/>
<rect x="42.66" y="591.00" width="6.2" height="10.70" fill="#dcdcdc"/>
<rect x="52.32" y="587.20" width="6.2" height="9.20" fill="#dcdcdc"/>
<rect x="61.98" y="584.10" width="6.2" height="8.40" fill="#dcdcdc"/>
<rect x="71.64" y="580.80" width="6.2" height="7.00" fill="#dcdcdc"/>
<rect x="81.30" y="576.80" width="6.2" height="5.80" fill="#dcdcdc"/>
<rect x="90.96" y="571.10" width="6.2" height="5.40" fill="#dcdcdc"/>
<rect x="100.62" y="565.50" width="6.2" height="4.20" fill="#dcdcdc"/>
<rect x="110.28" y="559.70" width="6.2" height="3.80" fill="#dcdcdc"/>
<rect x="33.75" y="597.55" width="4.70" height="4.70" fill="#d4f5d4" stroke="#14d214" stroke-width="1.4"/>
<rect x="43.41" y="593.55" width="4.70" height="4.70" fill="#d4f5d4" stroke="#14d214" stroke-width="1.4"/>
<rect x="53.07" y="589.15" width="4.70" height="4.70" fill="#d4f5d4" stroke="#14d214" stroke-width="1.4"/>
<rect x="62.73" y="584.35" width="4.70" height="4.70" fill="#d4f5d4" stroke="#14d214" stroke-width="1.4"/>
<rect x="72.39" y="579.45" width="4.70" height="4.70" fill="#d4f5d4" stroke="#14d214" stroke-width="1.4"/>
<rect x="82.05" y="574.45" width="4.70" height="4.70" fill="#d4f5d4" stroke="#14d214" stroke-width="1.4"/>
<rect x="91.71" y="568.75" width="4.70" height="4.70" fill="#d4f5d4" stroke="#14d214" stroke-width="1.4"/>
<rect x="101.37" y="563.15" width="4.70" height="4.70" fill="#d4f5d4" stroke="#14d214" stroke-width="1.4"/>
<rect x="111.03" y="557.35" width="4.70" height="4.70" fill="#d4f5d4" stroke="#14d214" stroke-width="1.4"/>
<rect x="120.69" y="551.35" width="4.70" height="4.70" fill="#d4f5d4" stroke="#14d214" stroke-width="1.4"/>
<rect x="130.35" y="545.55" width="4.70" height="4.70" fill="#d4f5d4" stroke="#14d214" stroke-width="1.4"/>
<rect x="140.01" y="540.55" width="4.70" height="4.70" fill="#d4f5d4" stroke="#14d214" stroke-width="1.4"/>
<rect x="149.67" y="536.35" width="4.70" height="4.70" fill="#d4f5d4" stroke="#14d214" stroke-width="1.4"/>
<rect x="159.33" y="534.05" width="4.70" height="4.70" fill="#d4f5d4" stroke="#14d214" stroke-width="1.4"/>
<rect x="168.99" y="532.95" width="4.70" height="4.70" fill="#d4f5d4" stroke="#14d214" stroke-width="1.4"/>
<rect x="176.85" y="534.45" width="4.70" height="4.70" fill="#d4f5d4" stroke="#14d214" stroke-width="1.4"/>
<rect x="184.55" y="537.55" width="4.70" height="4.70" fill="#d4f5d4" stroke="#14d214" stroke-width="1.4"/>
<rect x="192.35" y="542.55" width="4.70" height="4.70" fill="#d4f5d4" stroke="#14d214" stroke-width="1.4"/>
<rect x="198.55" y="548.25" width="4.70" height="4.70" fill="#d4f5d4" stroke="#14d214" stroke-width="1.4"/>
<rect x="203.85" y="553.25" width="4.70" height="4.70" fill="#d4f5d4" stroke="#14d214" stroke-width="1.4"/>
<rect x="208.15" y="557.85" width="4.70" height="4.70" fill="#d4f5d4" stroke="#14d214" stroke-width="1.4"/>
<rect x="211.55" y="559.75" width="4.70" height="4.70" fill="#d4f5d4" stroke="#14d214" stroke-width="1.4"/>
<rect x="214.75" y="553.25" width="4.70" height="4.70" fill="#d4f5d4" stroke="#14d214" stroke-width="1.4"/>
<rect x="217.85" y="532.15" width="4.70" height="4.70" fill="#d4f5d4" stroke="#14d214" stroke-width="1.4"/>
<rect x="220.55" y="475.45" width="4.70" height="4.70" fill="#d4f5d4" stroke="#14d214" stroke-width="1.4"/>
</g>
<g clip-path="url(#c03)" fill="none" stroke="#14d214" stroke-width="1.4" stroke-linejoin="round">
<path d="M31.20,601.30L32.59,600.63L33.97,599.96L35.35,599.29L36.72,598.61L38.09,597.94L39.46,597.26L40.83,596.59L42.19,595.91L43.55,595.23L44.90,594.56L46.26,593.88L47.61,593.20L48.96,592.51L50.30,591.83L51.65,591.15L52.99,590.46L54.33,589.77L55.66,589.09L57.00,588.40L58.33,587.70L59.66,587.01L60.99,586.32L62.32,585.62L63.64,584.92L64.96,584.22L66.29,583.52L67.61,582.82L68.93,582.11L70.24,581.40L71.56,580.70L72.88,579.98L74.19,579.27L75.51,578.56L76.82,577.84L78.13,577.12L79.44,576.40L80.75,575.67L82.06,574.94L83.37,574.22L84.68,573.48L85.99,572.75L87.30,572.01L88.61,571.27L89.92,570.53L91.23,569.79L92.54,569.04L93.85,568.29L95.16,567.54L96.47,566.78L97.78,566.02L99.10,565.26L100.41,564.49L101.72,563.72L103.04,562.95L104.35,562.18L105.67,561.40L106.98,560.62L108.30,559.84L109.62,559.06L110.95,558.28L112.27,557.50L113.59,556.72L114.92,555.94L116.25,555.17L117.58,554.39L118.91,553.63L120.24,552.86L121.58,552.10L122.91,551.35L124.25,550.61L125.60,549.87L126.94,549.14L128.29,548.41L129.64,547.70L130.99,547.00L132.35,546.30L133.71,545.62L135.07,544.95L136.43,544.30L137.80,543.65L139.17,543.02L140.54,542.41L141.92,541.81L143.30,541.22L144.68,540.65L146.07,540.11L147.46,539.59L148.86,539.10L150.26,538.64L151.66,538.21L153.07,537.83L154.48,537.49L155.89,537.20L157.31,536.95L158.74,536.76L160.17,536.63L161.60,536.56L163.04,536.55L164.48,536.61L165.93,536.75L167.38,536.96L168.84,537.24L170.30,537.61L171.76,538.04L173.22,538.53L174.68,539.08L176.14,539.68L177.59,540.32L179.04,541.00L180.48,541.72L181.91,542.46L183.33,543.23L184.75,544.01L186.16,544.80L187.56,545.59L188.97,546.38L190.37,547.16L191.77,547.93L193.16,548.68L194.56,549.40L195.96,550.09L197.35,550.72L198.73,551.27L200.09,551.70L201.43,551.97L202.73,552.06L203.99,551.92L205.19,551.53L206.34,550.86L207.42,549.96L208.43,548.89L209.35,547.74L210.19,546.54L210.95,545.31L211.63,544.04L212.23,542.75L212.77,541.42L213.25,540.06L213.67,538.68L214.04,537.27L214.37,535.84L214.65,534.39L214.89,532.91L215.11,531.42L215.30,529.91L215.47,528.39L215.61,526.85L215.74,525.30L215.85,523.74L215.95,522.17L216.03,520.60L216.10,519.02L216.16,517.43L216.22,515.84L216.26,514.26L216.30,512.67L216.34,511.09L216.38,509.51L216.41,507.94L216.45,506.38L216.49,504.82L216.54,503.28L216.59,501.75L216.65,500.23L216.72,498.73L216.80,497.25L216.88,495.77L216.98,494.31L217.08,492.85L217.18,491.41L217.29,489.97L217.40,488.53L217.51,487.09L217.63,485.66L217.75,484.23L217.86,482.79L217.98,481.36L218.09,479.91L218.20,478.46L218.31,477.01L218.41,475.54L218.51,474.06L218.60,472.57L218.68,471.07L218.76,469.54L218.83,468.01L218.88,466.45L218.93,464.87L218.97,463.27L218.99,461.65L219.00,460.00"/>
<path d="M42.50,611.00L43.78,610.20L45.06,609.41L46.35,608.62L47.64,607.84L48.94,607.07L50.24,606.30L51.54,605.53L52.84,604.77L54.15,604.01L55.46,603.25L56.77,602.50L58.08,601.75L59.40,601.00L60.71,600.26L62.03,599.51L63.35,598.77L64.67,598.03L65.99,597.29L67.31,596.54L68.63,595.80L69.95,595.06L71.27,594.32L72.59,593.58L73.91,592.84L75.23,592.09L76.55,591.35L77.86,590.60L79.18,589.85L80.49,589.09L81.80,588.34L83.11,587.58L84.41,586.81L85.72,586.04L87.01,585.27L88.31,584.49L89.60,583.71L90.89,582.92L92.18,582.13L93.46,581.33L94.73,580.52L96.01,579.71L97.27,578.89L98.54,578.07L99.79,577.23L101.04,576.39L102.29,575.54L103.53,574.68L104.76,573.81L105.99,572.94L107.21,572.05L108.42,571.15L109.63,570.25L110.83,569.33L112.02,568.40L113.20,567.46L114.38,566.51L115.55,565.55L116.71,564.58L117.87,563.60L119.02,562.62L120.17,561.63L121.31,560.64L122.46,559.64L123.60,558.64L124.74,557.65L125.89,556.65L127.03,555.65L128.18,554.66L129.33,553.68L130.49,552.70L131.65,551.73L132.82,550.76L133.99,549.81L135.18,548.87L136.37,547.94L137.57,547.02L138.78,546.12L140.01,545.24L141.24,544.37L142.50,543.53L143.76,542.70L145.04,541.90L146.34,541.11L147.65,540.36L148.98,539.62L150.33,538.92L151.70,538.24L153.09,537.59L154.50,536.98L155.93,536.40L157.37,535.86L158.82,535.37L160.28,534.92L161.75,534.52L163.22,534.17L164.70,533.88L166.18,533.65L167.66,533.48L169.13,533.38L170.60,533.35L172.06,533.40L173.51,533.52L174.95,533.72L176.38,534.01L177.78,534.39L179.17,534.85L180.54,535.41L181.88,536.06L183.21,536.78L184.51,537.56L185.80,538.41L187.06,539.30L188.31,540.24L189.54,541.21L190.75,542.19L191.95,543.20L193.12,544.20L194.28,545.21L195.43,546.20L196.56,547.19L197.67,548.18L198.76,549.18L199.85,550.20L200.91,551.26L201.97,552.35L203.01,553.48L204.04,554.68L205.05,555.93L206.05,557.26L207.04,558.67L208.02,560.11L208.98,561.52L209.91,562.84L210.82,563.99L211.70,564.91L212.55,565.53L213.36,565.79L214.12,565.65L214.84,565.12L215.51,564.24L216.13,563.08L216.70,561.72L217.22,560.23L217.70,558.68L218.13,557.11L218.52,555.52L218.87,553.93L219.18,552.32L219.45,550.72L219.70,549.13L219.91,547.55L220.09,545.98L220.25,544.43L220.38,542.89L220.49,541.35L220.58,539.83L220.65,538.32L220.70,536.82L220.75,535.32L220.78,533.83L220.80,532.35L220.81,530.86L220.82,529.38L220.83,527.91L220.84,526.43L220.84,524.95L220.86,523.47L220.87,521.98L220.90,520.50L220.93,519.00L220.97,517.51L221.02,516.01L221.07,514.51L221.13,513.01L221.19,511.50L221.26,509.99L221.34,508.48L221.41,506.96L221.49,505.44L221.58,503.93L221.66,502.41L221.75,500.88L221.84,499.36L221.93,497.84L222.02,496.31L222.12,494.79L222.21,493.26L222.30,491.74L222.39,490.21L222.48,488.69L222.56,487.16L222.64,485.64L222.72,484.11L222.80,482.59L222.87,481.07L222.94,479.55L223.00,478.03L223.06,476.51L223.11,475.00L223.16,473.48L223.19,471.97L223.23,470.47L223.25,468.96L223.26,467.46L223.27,465.96L223.27,464.46L223.26,462.97L223.23,461.48L223.20,460.00" stroke-dasharray="6 3" stroke-dashoffset="-2.5"/>
</g>
<g clip-path="url(#c10)">
<line x1="252.7" x2="451.9" y1="93.30" y2="93.30" stroke="#d9d9d9" stroke-width="1.3"/>
</g>
<g clip-path="url(#m10)">
<circle cx="334.88" cy="94.90" r="2.75" fill="#ff9590" stroke="#ff1199" stroke-width="1.5"/>
<circle cx="344.54" cy="88.60" r="2.75" fill="#ff9590" stroke="#ff1199" stroke-width="1.5"/>
<circle cx="354.20" cy="82.50" r="2.75" fill="#ff9590" stroke="#ff1199" stroke-width="1.5"/>
<circle cx="363.86" cy="76.50" r="2.75" fill="#ff9590" stroke="#ff1199" stroke-width="1.5"/>
<circle cx="373.52" cy="73.90" r="2.75" fill="#ff9590" stroke="#ff1199" stroke-width="1.5"/>
<circle cx="383.18" cy="75.30" r="2.75" fill="#ff9590" stroke="#ff1199" stroke-width="1.5"/>
<circle cx="392.84" cy="80.10" r="2.75" fill="#ff9590" stroke="#ff1199" stroke-width="1.5"/>
<circle cx="400.70" cy="86.20" r="2.75" fill="#ff9590" stroke="#ff1199" stroke-width="1.5"/>
<circle cx="408.40" cy="92.60" r="2.75" fill="#ff9590" stroke="#ff1199" stroke-width="1.5"/>
<circle cx="416.20" cy="101.20" r="2.75" fill="#ff9590" stroke="#ff1199" stroke-width="1.5"/>
<circle cx="422.40" cy="109.60" r="2.75" fill="#ff9590" stroke="#ff1199" stroke-width="1.5"/>
<circle cx="427.70" cy="117.60" r="2.75" fill="#ff9590" stroke="#ff1199" stroke-width="1.5"/>
<circle cx="432.00" cy="123.00" r="2.75" fill="#ff9590" stroke="#ff1199" stroke-width="1.5"/>
<circle cx="435.40" cy="126.30" r="2.75" fill="#ff9590" stroke="#ff1199" stroke-width="1.5"/>
<circle cx="438.60" cy="127.80" r="2.75" fill="#ff9590" stroke="#ff1199" stroke-width="1.5"/>
<circle cx="441.70" cy="126.50" r="2.75" fill="#ff9590" stroke="#ff1199" stroke-width="1.5"/>
<circle cx="444.40" cy="117.90" r="2.75" fill="#ff9590" stroke="#ff1199" stroke-width="1.5"/>
</g>
<g clip-path="url(#c10)" fill="none" stroke="#ff1199" stroke-width="1.3" stroke-linejoin="round">
<path d="M252.70,138.40L254.05,137.77L255.41,137.14L256.77,136.51L258.13,135.89L259.50,135.27L260.87,134.65L262.24,134.04L263.61,133.43L264.99,132.81L266.37,132.20L267.75,131.60L269.13,130.99L270.52,130.38L271.90,129.77L273.29,129.16L274.67,128.55L276.06,127.94L277.44,127.33L278.83,126.71L280.21,126.10L281.60,125.48L282.98,124.85L284.36,124.23L285.74,123.60L287.12,122.97L288.49,122.33L289.86,121.69L291.23,121.04L292.60,120.39L293.96,119.73L295.32,119.07L296.68,118.40L298.03,117.72L299.38,117.04L300.72,116.34L302.06,115.64L303.39,114.94L304.72,114.22L306.04,113.50L307.35,112.76L308.66,112.02L309.96,111.27L311.26,110.51L312.54,109.73L313.82,108.95L315.10,108.15L316.36,107.35L317.62,106.53L318.88,105.71L320.12,104.87L321.36,104.03L322.60,103.18L323.83,102.32L325.05,101.45L326.27,100.58L327.49,99.70L328.70,98.81L329.91,97.91L331.12,97.01L332.32,96.11L333.52,95.20L334.72,94.28L335.92,93.37L337.11,92.44L338.30,91.52L339.50,90.59L340.69,89.66L341.88,88.73L343.07,87.79L344.26,86.86L345.46,85.92L346.65,84.98L347.84,84.05L349.04,83.11L350.24,82.18L351.44,81.24L352.64,80.31L353.85,79.38L355.06,78.45L356.28,77.53L357.50,76.62L358.73,75.74L359.97,74.88L361.23,74.05L362.50,73.27L363.80,72.53L365.11,71.85L366.44,71.23L367.80,70.68L369.19,70.20L370.61,69.80L372.05,69.50L373.51,69.28L374.97,69.17L376.45,69.17L377.91,69.29L379.37,69.52L380.81,69.89L382.22,70.39L383.60,71.04L384.94,71.81L386.26,72.69L387.53,73.66L388.78,74.69L390.00,75.76L391.20,76.86L392.36,77.95L393.50,79.02L394.62,80.06L395.71,81.10L396.79,82.13L397.84,83.15L398.88,84.19L399.90,85.23L400.91,86.30L401.90,87.39L402.87,88.50L403.84,89.64L404.78,90.79L405.72,91.95L406.64,93.14L407.54,94.34L408.44,95.55L409.32,96.77L410.18,98.00L411.03,99.24L411.87,100.49L412.70,101.74L413.51,103.00L414.31,104.26L415.10,105.52L415.87,106.79L416.64,108.05L417.41,109.32L418.17,110.59L418.94,111.86L419.72,113.14L420.50,114.42L421.30,115.70L422.11,116.99L422.94,118.28L423.80,119.58L424.68,120.88L425.59,122.19L426.53,123.50L427.51,124.82L428.52,126.15L429.58,127.49L430.68,128.80L431.80,130.01L432.93,131.02L434.05,131.74L435.14,132.09L436.20,131.97L437.19,131.35L438.12,130.37L438.96,129.26L439.73,128.10L440.41,126.90L441.03,125.66L441.57,124.38L442.05,123.07L442.48,121.72L442.85,120.34L443.17,118.93L443.45,117.49L443.69,116.02L443.89,114.54L444.06,113.03L444.20,111.50L444.31,109.96L444.40,108.41L444.47,106.84L444.52,105.26L444.56,103.67L444.58,102.08L444.60,100.49L444.61,98.89L444.61,97.30L444.62,95.71L444.62,94.12L444.64,92.54L444.66,90.97L444.69,89.42L444.73,87.87L444.79,86.34L444.86,84.83L444.94,83.32L445.03,81.82L445.13,80.34L445.23,78.86L445.35,77.40L445.48,75.94L445.61,74.48L445.74,73.04L445.88,71.60L446.03,70.16L446.18,68.73L446.33,67.30L446.49,65.88L446.64,64.45L446.80,63.03L446.95,61.61L447.11,60.19L447.26,58.77L447.41,57.34L447.56,55.91L447.70,54.48L447.84,53.05L447.97,51.61L448.10,50.17L448.22,48.72L448.33,47.26L448.43,45.79L448.52,44.32L448.60,42.84L448.68,41.34L448.74,39.84L448.78,38.33L448.82,36.80L448.84,35.26L448.84,33.71L448.83,32.14L448.81,30.56L448.76,28.96L448.70,27.35L448.62,25.71L448.52,24.06L448.40,22.40L448.26,20.71L448.10,19.00"/>
<path d="M252.70,153.90L253.99,153.18L255.29,152.47L256.60,151.77L257.91,151.07L259.23,150.38L260.56,149.69L261.90,149.01L263.24,148.33L264.59,147.65L265.94,146.98L267.30,146.31L268.66,145.64L270.02,144.97L271.39,144.31L272.76,143.65L274.14,142.98L275.51,142.32L276.89,141.66L278.27,141.00L279.65,140.34L281.03,139.68L282.41,139.01L283.80,138.35L285.17,137.68L286.55,137.01L287.93,136.34L289.30,135.66L290.68,134.98L292.04,134.30L293.41,133.61L294.77,132.92L296.13,132.22L297.48,131.52L298.83,130.81L300.17,130.09L301.50,129.37L302.83,128.64L304.15,127.91L305.47,127.16L306.77,126.41L308.07,125.65L309.36,124.88L310.64,124.10L311.91,123.32L313.17,122.52L314.42,121.71L315.66,120.89L316.90,120.07L318.12,119.23L319.33,118.38L320.54,117.52L321.73,116.66L322.93,115.79L324.11,114.90L325.29,114.01L326.47,113.11L327.64,112.21L328.81,111.29L329.97,110.37L331.14,109.44L332.30,108.50L333.46,107.56L334.62,106.61L335.78,105.66L336.94,104.70L338.10,103.73L339.26,102.76L340.42,101.78L341.59,100.80L342.76,99.82L343.94,98.83L345.12,97.83L346.30,96.84L347.49,95.84L348.69,94.84L349.89,93.85L351.10,92.86L352.32,91.88L353.54,90.90L354.77,89.94L356.00,88.99L357.24,88.06L358.50,87.14L359.76,86.25L361.02,85.37L362.30,84.52L363.58,83.69L364.88,82.89L366.18,82.12L367.49,81.39L368.82,80.70L370.15,80.07L371.49,79.49L372.85,78.98L374.21,78.55L375.59,78.19L376.98,77.91L378.38,77.74L379.79,77.66L381.21,77.68L382.65,77.81L384.09,78.03L385.53,78.35L386.97,78.75L388.41,79.24L389.84,79.80L391.26,80.42L392.67,81.12L394.06,81.87L395.44,82.67L396.79,83.53L398.11,84.42L399.40,85.35L400.66,86.32L401.88,87.31L403.07,88.32L404.23,89.35L405.35,90.41L406.44,91.48L407.51,92.57L408.54,93.67L409.56,94.78L410.55,95.90L411.52,97.04L412.46,98.18L413.39,99.32L414.31,100.47L415.21,101.61L416.09,102.76L416.97,103.90L417.84,105.05L418.69,106.20L419.55,107.36L420.39,108.53L421.24,109.71L422.08,110.91L422.93,112.14L423.78,113.39L424.63,114.67L425.49,115.99L426.36,117.34L427.23,118.74L428.12,120.18L429.02,121.63L429.94,123.08L430.89,124.46L431.87,125.75L432.89,126.90L433.94,127.87L435.04,128.62L436.20,129.12L437.39,129.32L438.58,129.23L439.74,128.84L440.85,128.19L441.88,127.31L442.81,126.24L443.62,125.03L444.28,123.70L444.79,122.30L445.16,120.83L445.41,119.31L445.57,117.75L445.65,116.16L445.69,114.55L445.70,112.93L445.71,111.32L445.72,109.72L445.74,108.13L445.76,106.55L445.79,104.98L445.82,103.41L445.86,101.86L445.90,100.31L445.94,98.77L445.99,97.24L446.05,95.72L446.10,94.20L446.16,92.69L446.23,91.19L446.29,89.69L446.36,88.20L446.43,86.71L446.51,85.23L446.58,83.75L446.66,82.27L446.74,80.80L446.82,79.33L446.90,77.87L446.98,76.41L447.07,74.94L447.15,73.49L447.23,72.03L447.32,70.57L447.40,69.11L447.49,67.66L447.57,66.20L447.65,64.75L447.73,63.29L447.81,61.83L447.89,60.37L447.97,58.91L448.05,57.44L448.12,55.97L448.19,54.50L448.26,53.03L448.33,51.55L448.39,50.07L448.45,48.58L448.51,47.09L448.56,45.60L448.61,44.10L448.65,42.59L448.69,41.07L448.73,39.55L448.76,38.02L448.79,36.49L448.81,34.94L448.83,33.39L448.84,31.83L448.84,30.26L448.84,28.69L448.83,27.10L448.82,25.50L448.80,23.89L448.77,22.27L448.74,20.64L448.70,19.00" stroke-dasharray="6 3" stroke-dashoffset="0.8"/>
</g>
<g clip-path="url(#c11)">
<line x1="252.7" x2="451.9" y1="240.90" y2="240.90" stroke="#d9d9d9" stroke-width="1.3"/>
</g>
<g clip-path="url(#m11)">
<rect x="341.44" y="233.20" width="6.2" height="5.00" fill="#dcdcdc"/>
<rect x="351.10" y="221.30" width="6.2" height="5.00" fill="#dcdcdc"/>
<rect x="360.76" y="209.60" width="6.2" height="4.50" fill="#dcdcdc"/>
<rect x="389.74" y="210.30" width="6.2" height="5.00" fill="#dcdcdc"/>
<rect x="397.60" y="222.50" width="6.2" height="5.00" fill="#dcdcdc"/>
<rect x="405.30" y="236.70" width="6.2" height="5.00" fill="#dcdcdc"/>
<path d="M334.88,247.00L338.33,253.00L331.43,253.00Z" fill="#ffcc00" stroke="#ffa500" stroke-width="1.3" stroke-linejoin="miter"/>
<path d="M344.54,235.50L347.99,241.50L341.09,241.50Z" fill="#ffcc00" stroke="#ffa500" stroke-width="1.3" stroke-linejoin="miter"/>
<path d="M354.20,223.60L357.65,229.60L350.75,229.60Z" fill="#ffcc00" stroke="#ffa500" stroke-width="1.3" stroke-linejoin="miter"/>
<path d="M363.86,211.40L367.31,217.40L360.41,217.40Z" fill="#ffcc00" stroke="#ffa500" stroke-width="1.3" stroke-linejoin="miter"/>
<path d="M373.52,202.60L376.97,208.60L370.07,208.60Z" fill="#ffcc00" stroke="#ffa500" stroke-width="1.3" stroke-linejoin="miter"/>
<path d="M383.18,200.30L386.63,206.30L379.73,206.30Z" fill="#ffcc00" stroke="#ffa500" stroke-width="1.3" stroke-linejoin="miter"/>
<path d="M392.84,207.60L396.29,213.60L389.39,213.60Z" fill="#ffcc00" stroke="#ffa500" stroke-width="1.3" stroke-linejoin="miter"/>
<path d="M400.70,219.80L404.15,225.80L397.25,225.80Z" fill="#ffcc00" stroke="#ffa500" stroke-width="1.3" stroke-linejoin="miter"/>
<path d="M408.40,234.00L411.85,240.00L404.95,240.00Z" fill="#ffcc00" stroke="#ffa500" stroke-width="1.3" stroke-linejoin="miter"/>
<path d="M416.20,250.40L419.65,256.40L412.75,256.40Z" fill="#ffcc00" stroke="#ffa500" stroke-width="1.3" stroke-linejoin="miter"/>
<path d="M422.40,263.40L425.85,269.40L418.95,269.40Z" fill="#ffcc00" stroke="#ffa500" stroke-width="1.3" stroke-linejoin="miter"/>
<path d="M427.70,273.90L431.15,279.90L424.25,279.90Z" fill="#ffcc00" stroke="#ffa500" stroke-width="1.3" stroke-linejoin="miter"/>
<path d="M432.00,283.60L435.45,289.60L428.55,289.60Z" fill="#ffcc00" stroke="#ffa500" stroke-width="1.3" stroke-linejoin="miter"/>
<path d="M435.40,292.50L438.85,298.50L431.95,298.50Z" fill="#ffcc00" stroke="#ffa500" stroke-width="1.3" stroke-linejoin="miter"/>
<path d="M438.60,300.30L442.05,306.30L435.15,306.30Z" fill="#ffcc00" stroke="#ffa500" stroke-width="1.3" stroke-linejoin="miter"/>
<path d="M441.70,305.80L445.15,311.80L438.25,311.80Z" fill="#ffcc00" stroke="#ffa500" stroke-width="1.3" stroke-linejoin="miter"/>
<path d="M444.40,306.20L447.85,312.20L440.95,312.20Z" fill="#ffcc00" stroke="#ffa500" stroke-width="1.3" stroke-linejoin="miter"/>
</g>
<g clip-path="url(#c11)" fill="none" stroke="#ffb145" stroke-width="1.35" stroke-linejoin="round">
<path d="M252.70,313.50L254.06,312.87L255.42,312.24L256.77,311.60L258.13,310.95L259.48,310.29L260.83,309.62L262.17,308.95L263.52,308.26L264.86,307.57L266.19,306.87L267.53,306.16L268.86,305.44L270.19,304.72L271.51,303.99L272.83,303.24L274.15,302.49L275.46,301.74L276.77,300.97L278.07,300.19L279.37,299.41L280.66,298.62L281.95,297.82L283.24,297.01L284.51,296.20L285.79,295.37L287.06,294.54L288.32,293.70L289.58,292.85L290.83,291.99L292.07,291.12L293.31,290.25L294.55,289.37L295.77,288.48L296.99,287.58L298.20,286.67L299.41,285.75L300.61,284.83L301.80,283.90L302.99,282.96L304.16,282.01L305.33,281.05L306.50,280.09L307.65,279.11L308.80,278.13L309.93,277.14L311.06,276.14L312.19,275.14L313.30,274.12L314.40,273.10L315.50,272.07L316.58,271.03L317.66,269.98L318.73,268.92L319.78,267.86L320.83,266.79L321.87,265.71L322.90,264.62L323.92,263.52L324.92,262.41L325.92,261.30L326.91,260.18L327.88,259.05L328.85,257.91L329.80,256.76L330.75,255.61L331.68,254.44L332.60,253.27L333.51,252.09L334.41,250.91L335.29,249.71L336.17,248.51L337.03,247.29L337.88,246.07L338.73,244.85L339.56,243.61L340.39,242.37L341.21,241.13L342.02,239.88L342.83,238.62L343.63,237.35L344.43,236.09L345.23,234.82L346.02,233.54L346.81,232.26L347.61,230.98L348.40,229.69L349.19,228.40L349.99,227.11L350.79,225.82L351.59,224.52L352.40,223.22L353.21,221.93L354.03,220.63L354.85,219.33L355.69,218.03L356.53,216.73L357.38,215.44L358.24,214.14L359.11,212.84L360.00,211.55L360.89,210.26L361.80,208.97L362.73,207.68L363.67,206.40L364.62,205.12L365.59,203.86L366.58,202.61L367.59,201.39L368.62,200.21L369.67,199.07L370.74,197.98L371.82,196.95L372.94,195.99L374.07,195.09L375.23,194.28L376.41,193.56L377.62,192.93L378.86,192.42L380.12,192.06L381.41,191.90L382.73,191.97L384.06,192.26L385.39,192.76L386.68,193.45L387.93,194.29L389.10,195.28L390.17,196.37L391.16,197.56L392.07,198.81L392.92,200.11L393.73,201.43L394.52,202.76L395.28,204.10L396.01,205.45L396.73,206.80L397.42,208.16L398.09,209.52L398.74,210.89L399.37,212.27L399.99,213.65L400.59,215.04L401.17,216.43L401.75,217.83L402.31,219.23L402.85,220.63L403.39,222.04L403.92,223.45L404.44,224.86L404.96,226.28L405.47,227.69L405.98,229.11L406.48,230.53L406.98,231.95L407.49,233.37L407.99,234.79L408.49,236.21L408.99,237.63L409.49,239.06L409.98,240.48L410.48,241.91L410.98,243.33L411.47,244.76L411.96,246.18L412.45,247.61L412.94,249.04L413.43,250.47L413.91,251.90L414.39,253.33L414.87,254.76L415.35,256.19L415.82,257.62L416.29,259.06L416.76,260.49L417.22,261.93L417.68,263.37L418.14,264.81L418.60,266.24L419.05,267.69L419.49,269.13L419.94,270.57L420.38,272.01L420.81,273.46L421.24,274.91L421.67,276.35L422.09,277.80L422.51,279.25L422.92,280.70L423.32,282.16L423.73,283.61L424.12,285.07L424.51,286.52L424.90,287.98L425.28,289.44L425.65,290.90L426.02,292.37L426.38,293.83L426.74,295.30L427.09,296.77L427.43,298.23L427.77,299.71L428.10,301.18L428.42,302.65L428.74,304.13L429.05,305.61L429.35,307.09L429.64,308.57L429.93,310.05L430.21,311.53L430.48,313.02L430.74,314.51L431.00,316.00"/>
<path d="M277.50,316.00L278.46,314.89L279.44,313.80L280.45,312.73L281.48,311.68L282.54,310.64L283.61,309.61L284.70,308.60L285.81,307.60L286.93,306.61L288.07,305.63L289.22,304.66L290.38,303.70L291.55,302.74L292.73,301.79L293.91,300.85L295.11,299.90L296.30,298.96L297.50,298.03L298.70,297.09L299.91,296.15L301.11,295.20L302.31,294.26L303.50,293.31L304.69,292.36L305.88,291.40L307.05,290.43L308.22,289.45L309.38,288.47L310.52,287.47L311.65,286.47L312.77,285.45L313.87,284.41L314.95,283.36L316.02,282.30L317.07,281.23L318.11,280.14L319.13,279.04L320.14,277.93L321.14,276.81L322.12,275.67L323.10,274.53L324.06,273.37L325.01,272.21L325.95,271.04L326.88,269.85L327.80,268.66L328.71,267.47L329.62,266.26L330.52,265.05L331.41,263.83L332.29,262.60L333.17,261.37L334.05,260.14L334.92,258.90L335.79,257.66L336.65,256.41L337.51,255.16L338.37,253.90L339.23,252.65L340.09,251.39L340.95,250.13L341.81,248.87L342.67,247.61L343.53,246.35L344.39,245.09L345.26,243.83L346.13,242.58L347.01,241.33L347.89,240.09L348.79,238.85L349.70,237.63L350.63,236.41L351.57,235.22L352.53,234.04L353.50,232.87L354.51,231.73L355.53,230.61L356.58,229.51L357.66,228.44L358.76,227.40L359.90,226.38L361.07,225.40L362.28,224.45L363.52,223.54L364.80,222.66L366.12,221.82L367.47,221.04L368.84,220.32L370.24,219.66L371.65,219.08L373.07,218.58L374.49,218.18L375.92,217.87L377.34,217.68L378.75,217.59L380.14,217.64L381.52,217.80L382.88,218.08L384.22,218.46L385.55,218.95L386.85,219.53L388.14,220.20L389.41,220.94L390.66,221.76L391.90,222.64L393.11,223.58L394.31,224.58L395.49,225.61L396.65,226.68L397.79,227.78L398.92,228.91L400.02,230.05L401.11,231.19L402.17,232.35L403.22,233.51L404.25,234.67L405.26,235.85L406.25,237.03L407.23,238.21L408.19,239.40L409.13,240.60L410.06,241.81L410.97,243.02L411.87,244.24L412.75,245.46L413.62,246.69L414.47,247.93L415.31,249.18L416.14,250.43L416.95,251.68L417.75,252.95L418.54,254.22L419.32,255.49L420.08,256.78L420.84,258.07L421.58,259.36L422.31,260.66L423.03,261.97L423.74,263.29L424.45,264.61L425.14,265.94L425.83,267.27L426.50,268.61L427.17,269.95L427.83,271.30L428.49,272.66L429.13,274.02L429.77,275.38L430.41,276.75L431.04,278.13L431.66,279.51L432.28,280.89L432.89,282.28L433.50,283.67L434.11,285.07L434.71,286.47L435.30,287.87L435.90,289.27L436.49,290.68L437.08,292.10L437.67,293.51L438.26,294.93L438.85,296.35L439.43,297.78L440.01,299.22L440.58,300.68L441.14,302.17L441.69,303.71L442.21,305.30L442.72,306.90L443.20,308.37L443.65,309.58L444.07,310.37L444.46,310.63L444.81,310.33L445.14,309.55L445.44,308.37L445.72,306.89L445.97,305.20L446.20,303.39L446.42,301.56L446.62,299.77L446.80,298.03L446.96,296.34L447.12,294.68L447.26,293.07L447.38,291.48L447.50,289.93L447.60,288.40L447.69,286.90L447.78,285.42L447.85,283.95L447.92,282.50L447.97,281.06L448.02,279.62L448.07,278.18L448.11,276.75L448.14,275.30L448.17,273.86L448.20,272.39L448.23,270.92L448.25,269.43L448.27,267.92L448.30,266.40L448.32,264.87L448.34,263.33L448.37,261.79L448.40,260.24L448.43,258.69L448.46,257.14L448.51,255.59L448.55,254.04L448.61,252.50L448.67,250.97L448.73,249.45L448.81,247.94L448.90,246.44L448.99,244.96L449.10,243.50" stroke-dasharray="6 3" stroke-dashoffset="0"/>
</g>
<g clip-path="url(#c12)">
<line x1="252.7" x2="451.9" y1="388.50" y2="388.50" stroke="#d9d9d9" stroke-width="1.3"/>
</g>
<g clip-path="url(#m12)">
<rect x="341.44" y="394.30" width="6.2" height="5.70" fill="#dcdcdc"/>
<rect x="351.10" y="384.90" width="6.2" height="6.70" fill="#dcdcdc"/>
<rect x="360.76" y="373.60" width="6.2" height="6.90" fill="#dcdcdc"/>
<rect x="370.42" y="360.60" width="6.2" height="7.40" fill="#dcdcdc"/>
<rect x="380.08" y="346.80" width="6.2" height="6.90" fill="#dcdcdc"/>
<rect x="389.74" y="335.40" width="6.2" height="4.30" fill="#dcdcdc"/>
<rect x="405.30" y="335.70" width="6.2" height="5.00" fill="#dcdcdc"/>
<rect x="413.10" y="354.60" width="6.2" height="8.70" fill="#dcdcdc"/>
<rect x="419.30" y="381.50" width="6.2" height="8.40" fill="#dcdcdc"/>
<rect x="424.60" y="405.20" width="6.2" height="5.00" fill="#dcdcdc"/>
<rect x="428.90" y="424.40" width="6.2" height="4.00" fill="#dcdcdc"/>
<path d="M334.88,404.60L338.38,408.10L334.88,411.60L331.38,408.10Z" fill="#dcdcff" stroke="#6464ff" stroke-width="1.3"/>
<path d="M344.54,396.50L348.04,400.00L344.54,403.50L341.04,400.00Z" fill="#dcdcff" stroke="#6464ff" stroke-width="1.3"/>
<path d="M354.20,388.10L357.70,391.60L354.20,395.10L350.70,391.60Z" fill="#dcdcff" stroke="#6464ff" stroke-width="1.3"/>
<path d="M363.86,377.00L367.36,380.50L363.86,384.00L360.36,380.50Z" fill="#dcdcff" stroke="#6464ff" stroke-width="1.3"/>
<path d="M373.52,364.50L377.02,368.00L373.52,371.50L370.02,368.00Z" fill="#dcdcff" stroke="#6464ff" stroke-width="1.3"/>
<path d="M383.18,350.20L386.68,353.70L383.18,357.20L379.68,353.70Z" fill="#dcdcff" stroke="#6464ff" stroke-width="1.3"/>
<path d="M392.84,336.20L396.34,339.70L392.84,343.20L389.34,339.70Z" fill="#dcdcff" stroke="#6464ff" stroke-width="1.3"/>
<path d="M400.70,328.60L404.20,332.10L400.70,335.60L397.20,332.10Z" fill="#dcdcff" stroke="#6464ff" stroke-width="1.3"/>
<path d="M408.40,332.20L411.90,335.70L408.40,339.20L404.90,335.70Z" fill="#dcdcff" stroke="#6464ff" stroke-width="1.3"/>
<path d="M416.20,351.10L419.70,354.60L416.20,358.10L412.70,354.60Z" fill="#dcdcff" stroke="#6464ff" stroke-width="1.3"/>
<path d="M422.40,378.00L425.90,381.50L422.40,385.00L418.90,381.50Z" fill="#dcdcff" stroke="#6464ff" stroke-width="1.3"/>
<path d="M427.70,401.70L431.20,405.20L427.70,408.70L424.20,405.20Z" fill="#dcdcff" stroke="#6464ff" stroke-width="1.3"/>
<path d="M432.00,420.90L435.50,424.40L432.00,427.90L428.50,424.40Z" fill="#dcdcff" stroke="#6464ff" stroke-width="1.3"/>
<path d="M435.40,435.50L438.90,439.00L435.40,442.50L431.90,439.00Z" fill="#dcdcff" stroke="#6464ff" stroke-width="1.3"/>
<path d="M438.60,450.20L442.10,453.70L438.60,457.20L435.10,453.70Z" fill="#dcdcff" stroke="#6464ff" stroke-width="1.3"/>
</g>
<g clip-path="url(#c12)" fill="none" stroke="#6464ff" stroke-width="1.3" stroke-linejoin="round">
<path d="M252.70,453.60L254.07,453.02L255.45,452.44L256.82,451.85L258.20,451.27L259.59,450.68L260.97,450.09L262.36,449.50L263.75,448.91L265.14,448.31L266.53,447.71L267.92,447.11L269.32,446.51L270.71,445.90L272.11,445.29L273.50,444.67L274.90,444.05L276.29,443.43L277.69,442.81L279.08,442.18L280.48,441.54L281.87,440.91L283.26,440.26L284.65,439.62L286.04,438.97L287.43,438.31L288.82,437.65L290.20,436.98L291.58,436.31L292.96,435.64L294.34,434.95L295.71,434.27L297.08,433.57L298.45,432.87L299.81,432.17L301.17,431.46L302.53,430.74L303.88,430.02L305.23,429.29L306.57,428.55L307.91,427.80L309.24,427.05L310.57,426.29L311.90,425.53L313.21,424.76L314.53,423.98L315.83,423.19L317.13,422.39L318.43,421.59L319.71,420.77L320.99,419.95L322.27,419.12L323.53,418.29L324.79,417.44L326.04,416.59L327.29,415.72L328.52,414.85L329.75,413.97L330.97,413.08L332.18,412.17L333.38,411.26L334.58,410.34L335.76,409.41L336.93,408.47L338.10,407.52L339.25,406.56L340.40,405.59L341.53,404.61L342.66,403.61L343.77,402.61L344.88,401.59L345.97,400.57L347.05,399.53L348.12,398.48L349.18,397.42L350.22,396.35L351.26,395.27L352.28,394.17L353.29,393.06L354.29,391.94L355.27,390.81L356.24,389.66L357.20,388.51L358.15,387.34L359.08,386.16L360.01,384.97L360.92,383.77L361.81,382.56L362.70,381.33L363.58,380.10L364.44,378.86L365.29,377.61L366.13,376.34L366.96,375.07L367.77,373.79L368.58,372.50L369.37,371.21L370.15,369.90L370.92,368.59L371.68,367.27L372.43,365.94L373.17,364.60L373.89,363.26L374.61,361.91L375.32,360.55L376.01,359.18L376.69,357.81L377.37,356.44L378.03,355.05L378.68,353.67L379.33,352.27L379.96,350.87L380.58,349.47L381.19,348.06L381.80,346.65L382.39,345.23L382.97,343.81L383.55,342.39L384.11,340.96L384.66,339.53L385.21,338.09L385.75,336.66L386.27,335.22L386.79,333.77L387.30,332.33L387.80,330.88L388.29,329.43L388.77,327.98L389.24,326.53L389.70,325.08L390.16,323.63L390.60,322.17L391.04,320.72L391.47,319.26L391.89,317.81L392.31,316.36L392.71,314.90L393.11,313.45L393.50,312.00"/>
<path d="M420.90,312.00L421.15,313.50L421.40,314.99L421.64,316.49L421.88,317.99L422.11,319.50L422.34,321.00L422.56,322.50L422.77,324.01L422.98,325.52L423.19,327.03L423.39,328.54L423.59,330.05L423.79,331.56L423.98,333.07L424.17,334.59L424.36,336.10L424.54,337.62L424.72,339.13L424.89,340.65L425.07,342.17L425.24,343.69L425.41,345.21L425.58,346.73L425.75,348.25L425.91,349.77L426.08,351.29L426.24,352.81L426.40,354.34L426.57,355.86L426.73,357.38L426.89,358.90L427.05,360.43L427.21,361.95L427.37,363.47L427.53,365.00L427.69,366.52L427.86,368.04L428.02,369.56L428.19,371.09L428.36,372.61L428.52,374.13L428.70,375.65L428.87,377.17L429.04,378.70L429.22,380.22L429.40,381.74L429.58,383.25L429.77,384.77L429.96,386.29L430.15,387.81L430.35,389.32L430.55,390.84L430.75,392.35L430.96,393.87L431.17,395.38L431.39,396.89L431.61,398.40L431.84,399.91L432.07,401.42L432.30,402.93L432.55,404.43L432.80,405.93L433.05,407.44L433.31,408.94L433.58,410.44L433.85,411.94L434.13,413.43L434.42,414.93L434.71,416.42L435.01,417.91L435.32,419.40L435.64,420.89L435.96,422.37L436.29,423.86L436.63,425.34L436.98,426.82L437.34,428.30L437.70,429.77L438.08,431.25L438.46,432.72L438.86,434.19L439.26,435.65L439.67,437.12L440.10,438.58L440.53,440.04L440.97,441.49L441.43,442.95L441.89,444.40L442.37,445.85L442.85,447.29L443.35,448.74L443.86,450.18L444.38,451.61L444.92,453.05L445.46,454.48L446.02,455.91L446.59,457.33L447.17,458.75L447.77,460.17L448.38,461.59L449.00,463.00"/>
<path d="M252.70,458.80L254.04,458.13L255.38,457.46L256.73,456.79L258.08,456.12L259.43,455.46L260.78,454.80L262.14,454.14L263.50,453.49L264.86,452.83L266.22,452.18L267.58,451.52L268.94,450.87L270.31,450.22L271.67,449.57L273.04,448.91L274.41,448.26L275.77,447.61L277.14,446.96L278.51,446.30L279.87,445.65L281.24,444.99L282.61,444.33L283.97,443.67L285.33,443.01L286.70,442.35L288.06,441.68L289.42,441.01L290.77,440.34L292.13,439.66L293.48,438.98L294.83,438.30L296.18,437.61L297.53,436.92L298.87,436.23L300.21,435.53L301.55,434.83L302.88,434.12L304.21,433.40L305.53,432.68L306.85,431.96L308.17,431.23L309.48,430.49L310.79,429.74L312.09,428.99L313.39,428.24L314.68,427.47L315.97,426.70L317.25,425.92L318.53,425.13L319.80,424.34L321.06,423.53L322.32,422.72L323.57,421.90L324.81,421.07L326.05,420.23L327.28,419.39L328.50,418.53L329.71,417.66L330.92,416.78L332.12,415.90L333.31,415.00L334.50,414.09L335.67,413.17L336.84,412.24L338.00,411.30L339.15,410.35L340.29,409.38L341.43,408.41L342.56,407.44L343.69,406.45L344.81,405.45L345.93,404.45L347.05,403.44L348.16,402.43L349.27,401.40L350.37,400.38L351.48,399.34L352.58,398.31L353.69,397.26L354.79,396.22L355.89,395.16L357.00,394.11L358.10,393.05L359.21,391.99L360.32,390.93L361.43,389.87L362.54,388.81L363.66,387.74L364.78,386.68L365.91,385.61L367.04,384.55L368.18,383.48L369.32,382.42L370.48,381.36L371.63,380.30L372.80,379.24L373.97,378.19L375.16,377.14L376.35,376.11L377.55,375.09L378.76,374.12L379.98,373.18L381.22,372.31L382.46,371.49L383.72,370.76L384.99,370.11L386.27,369.57L387.57,369.18L388.87,368.94L390.19,368.85L391.52,368.91L392.84,369.09L394.16,369.41L395.48,369.83L396.79,370.37L398.08,371.00L399.35,371.72L400.60,372.51L401.82,373.38L403.02,374.31L404.18,375.29L405.30,376.31L406.39,377.38L407.44,378.48L408.46,379.62L409.44,380.80L410.39,382.00L411.32,383.24L412.21,384.51L413.07,385.79L413.91,387.11L414.72,388.44L415.51,389.79L416.27,391.15L417.01,392.53L417.74,393.92L418.44,395.32L419.12,396.73L419.78,398.14L420.43,399.55L421.06,400.96L421.68,402.37L422.29,403.78L422.88,405.19L423.45,406.60L424.02,408.01L424.57,409.42L425.11,410.82L425.64,412.23L426.16,413.64L426.67,415.05L427.17,416.45L427.66,417.86L428.14,419.27L428.61,420.68L429.07,422.09L429.53,423.50L429.97,424.92L430.42,426.33L430.85,427.75L431.28,429.16L431.70,430.58L432.12,432.00L432.54,433.43L432.95,434.85L433.35,436.28L433.76,437.71L434.16,439.14L434.56,440.57L434.95,442.01L435.35,443.45L435.74,444.89L436.14,446.34L436.53,447.79L436.93,449.24L437.32,450.70L437.72,452.16L438.12,453.63L438.52,455.10L438.92,456.57L439.33,458.05L439.74,459.53L440.16,461.01L440.58,462.50L441.00,464.00" stroke-dasharray="6 3" stroke-dashoffset="0.8"/>
</g>
<g clip-path="url(#c13)">
<line x1="252.7" x2="451.9" y1="536.10" y2="536.10" stroke="#d9d9d9" stroke-width="1.3"/>
</g>
<g clip-path="url(#m13)">
<rect x="331.78" y="565.50" width="6.2" height="4.60" fill="#dcdcdc"/>
<rect x="341.44" y="555.50" width="6.2" height="3.50" fill="#dcdcdc"/>
<rect x="332.53" y="563.15" width="4.70" height="4.70" fill="#d4f5d4" stroke="#14d214" stroke-width="1.4"/>
<rect x="342.19" y="556.65" width="4.70" height="4.70" fill="#d4f5d4" stroke="#14d214" stroke-width="1.4"/>
<rect x="351.85" y="549.45" width="4.70" height="4.70" fill="#d4f5d4" stroke="#14d214" stroke-width="1.4"/>
<rect x="361.51" y="542.85" width="4.70" height="4.70" fill="#d4f5d4" stroke="#14d214" stroke-width="1.4"/>
<rect x="371.17" y="537.45" width="4.70" height="4.70" fill="#d4f5d4" stroke="#14d214" stroke-width="1.4"/>
<rect x="380.83" y="534.05" width="4.70" height="4.70" fill="#d4f5d4" stroke="#14d214" stroke-width="1.4"/>
<rect x="390.49" y="532.95" width="4.70" height="4.70" fill="#d4f5d4" stroke="#14d214" stroke-width="1.4"/>
<rect x="398.35" y="534.45" width="4.70" height="4.70" fill="#d4f5d4" stroke="#14d214" stroke-width="1.4"/>
<rect x="406.05" y="537.25" width="4.70" height="4.70" fill="#d4f5d4" stroke="#14d214" stroke-width="1.4"/>
<rect x="413.85" y="542.15" width="4.70" height="4.70" fill="#d4f5d4" stroke="#14d214" stroke-width="1.4"/>
<rect x="420.05" y="548.25" width="4.70" height="4.70" fill="#d4f5d4" stroke="#14d214" stroke-width="1.4"/>
<rect x="425.35" y="553.55" width="4.70" height="4.70" fill="#d4f5d4" stroke="#14d214" stroke-width="1.4"/>
<rect x="429.65" y="558.15" width="4.70" height="4.70" fill="#d4f5d4" stroke="#14d214" stroke-width="1.4"/>
<rect x="433.05" y="561.25" width="4.70" height="4.70" fill="#d4f5d4" stroke="#14d214" stroke-width="1.4"/>
<rect x="436.25" y="556.65" width="4.70" height="4.70" fill="#d4f5d4" stroke="#14d214" stroke-width="1.4"/>
<rect x="439.35" y="538.25" width="4.70" height="4.70" fill="#d4f5d4" stroke="#14d214" stroke-width="1.4"/>
<rect x="442.05" y="488.75" width="4.70" height="4.70" fill="#d4f5d4" stroke="#14d214" stroke-width="1.4"/>
</g>
<g clip-path="url(#c13)" fill="none" stroke="#14d214" stroke-width="1.4" stroke-linejoin="round">
<path d="M261.50,611.00L262.74,610.15L263.98,609.31L265.22,608.46L266.47,607.62L267.71,606.78L268.96,605.94L270.21,605.11L271.46,604.27L272.71,603.44L273.97,602.61L275.22,601.78L276.48,600.95L277.74,600.12L279.00,599.30L280.26,598.47L281.52,597.65L282.78,596.82L284.04,596.00L285.31,595.18L286.57,594.36L287.84,593.54L289.11,592.72L290.37,591.90L291.64,591.09L292.91,590.27L294.18,589.45L295.45,588.64L296.72,587.82L297.99,587.00L299.26,586.19L300.53,585.37L301.80,584.56L303.07,583.74L304.34,582.93L305.61,582.11L306.88,581.29L308.15,580.48L309.42,579.66L310.69,578.84L311.96,578.02L313.23,577.20L314.50,576.38L315.76,575.56L317.03,574.74L318.30,573.92L319.56,573.10L320.83,572.27L322.09,571.45L323.35,570.62L324.61,569.80L325.88,568.97L327.13,568.14L328.39,567.31L329.65,566.47L330.91,565.64L332.16,564.80L333.42,563.97L334.67,563.13L335.93,562.29L337.18,561.46L338.44,560.62L339.69,559.78L340.95,558.94L342.21,558.10L343.47,557.26L344.73,556.43L345.99,555.59L347.26,554.75L348.52,553.91L349.79,553.08L351.07,552.24L352.34,551.41L353.62,550.58L354.90,549.75L356.18,548.92L357.47,548.09L358.77,547.27L360.06,546.44L361.36,545.62L362.67,544.80L363.98,543.99L365.30,543.17L366.62,542.37L367.94,541.58L369.27,540.81L370.61,540.07L371.96,539.37L373.31,538.70L374.66,538.08L376.03,537.52L377.40,537.01L378.78,536.57L380.16,536.20L381.55,535.91L382.96,535.71L384.36,535.59L385.78,535.57L387.21,535.65L388.64,535.83L390.08,536.10L391.52,536.45L392.96,536.87L394.41,537.37L395.85,537.92L397.29,538.54L398.72,539.19L400.15,539.90L401.57,540.63L402.98,541.39L404.38,542.18L405.78,542.98L407.18,543.78L408.57,544.59L409.95,545.39L411.34,546.18L412.72,546.94L414.10,547.68L415.49,548.39L416.87,549.06L418.26,549.68L419.63,550.23L421.00,550.71L422.34,551.09L423.65,551.36L424.92,551.50L426.15,551.50L427.32,551.35L428.43,551.02L429.47,550.51L430.43,549.78L431.31,548.85L432.10,547.72L432.82,546.43L433.47,545.02L434.04,543.52L434.56,541.96L435.02,540.38L435.42,538.78L435.78,537.17L436.10,535.56L436.38,533.94L436.63,532.33L436.85,530.74L437.06,529.16L437.24,527.60L437.41,526.06L437.56,524.54L437.70,523.03L437.83,521.54L437.95,520.06L438.05,518.58L438.16,517.11L438.25,515.65L438.34,514.20L438.42,512.74L438.51,511.28L438.59,509.82L438.68,508.36L438.76,506.89L438.85,505.41L438.94,503.93L439.04,502.43L439.14,500.93L439.25,499.42L439.35,497.91L439.46,496.39L439.57,494.86L439.68,493.33L439.79,491.79L439.90,490.26L440.00,488.72L440.11,487.18L440.21,485.64L440.31,484.10L440.41,482.56L440.51,481.02L440.59,479.48L440.68,477.94L440.76,476.41L440.83,474.89L440.90,473.36L440.95,471.85L441.01,470.34L441.05,468.83L441.08,467.34L441.11,465.85L441.12,464.37L441.13,462.91L441.12,461.45L441.10,460.00"/>
<path d="M288.50,611.00L289.70,610.10L290.91,609.20L292.11,608.29L293.31,607.39L294.51,606.48L295.71,605.58L296.91,604.67L298.11,603.76L299.30,602.85L300.49,601.93L301.68,601.02L302.87,600.10L304.06,599.18L305.25,598.26L306.43,597.33L307.61,596.41L308.79,595.48L309.97,594.55L311.15,593.62L312.32,592.68L313.50,591.74L314.67,590.80L315.84,589.86L317.00,588.92L318.17,587.97L319.33,587.01L320.49,586.06L321.65,585.10L322.81,584.14L323.96,583.18L325.11,582.21L326.26,581.24L327.41,580.26L328.55,579.29L329.69,578.31L330.83,577.32L331.97,576.33L333.11,575.34L334.24,574.34L335.37,573.34L336.49,572.34L337.62,571.33L338.74,570.32L339.86,569.30L340.97,568.28L342.08,567.25L343.19,566.22L344.30,565.19L345.41,564.15L346.51,563.11L347.61,562.06L348.71,561.01L349.80,559.97L350.90,558.92L352.01,557.87L353.11,556.83L354.21,555.79L355.32,554.76L356.44,553.73L357.56,552.71L358.68,551.70L359.81,550.69L360.95,549.70L362.10,548.72L363.25,547.75L364.42,546.80L365.59,545.86L366.78,544.93L367.98,544.03L369.19,543.14L370.41,542.27L371.65,541.42L372.90,540.59L374.17,539.78L375.46,539.00L376.76,538.24L378.08,537.51L379.41,536.81L380.77,536.13L382.15,535.48L383.55,534.87L384.97,534.29L386.40,533.77L387.85,533.33L389.30,533.00L390.77,532.80L392.23,532.75L393.69,532.86L395.15,533.14L396.60,533.56L398.04,534.07L399.47,534.65L400.87,535.28L402.25,535.92L403.61,536.58L404.96,537.26L406.28,537.97L407.58,538.70L408.85,539.45L410.11,540.23L411.35,541.03L412.57,541.87L413.77,542.73L414.95,543.63L416.11,544.56L417.25,545.52L418.37,546.52L419.47,547.55L420.55,548.63L421.62,549.74L422.67,550.89L423.70,552.08L424.72,553.32L425.72,554.60L426.71,555.93L427.68,557.31L428.64,558.73L429.58,560.16L430.50,561.57L431.40,562.89L432.27,564.08L433.12,565.08L433.93,565.86L434.71,566.36L435.46,566.52L436.16,566.32L436.82,565.70L437.43,564.66L438.00,563.28L438.52,561.65L439.01,559.88L439.45,558.08L439.85,556.33L440.22,554.67L440.56,553.08L440.86,551.55L441.13,550.06L441.37,548.61L441.59,547.17L441.78,545.74L441.94,544.31L442.08,542.86L442.20,541.41L442.31,539.94L442.39,538.47L442.46,536.98L442.52,535.49L442.56,533.99L442.59,532.49L442.62,530.98L442.64,529.46L442.65,527.94L442.66,526.42L442.67,524.90L442.68,523.37L442.69,521.85L442.71,520.32L442.72,518.79L442.75,517.27L442.79,515.75L442.83,514.23L442.89,512.71L442.96,511.20L443.03,509.69L443.12,508.18L443.21,506.68L443.31,505.17L443.42,503.67L443.53,502.17L443.64,500.68L443.76,499.18L443.88,497.69L444.00,496.19L444.12,494.70L444.24,493.21L444.36,491.71L444.48,490.22L444.59,488.73L444.70,487.23L444.80,485.74L444.90,484.24L445.00,482.75L445.08,481.25L445.16,479.75L445.23,478.25L445.28,476.74L445.33,475.24L445.37,473.73L445.39,472.22L445.40,470.70L445.39,469.19L445.37,467.66L445.33,466.14L445.28,464.61L445.20,463.08L445.11,461.54L445.00,460.00" stroke-dasharray="6 3" stroke-dashoffset="-1.4"/>
</g>
<g stroke="#000" stroke-width="1.2" fill="none" stroke-linecap="butt">
<rect x="31.2" y="19.5" width="199.20" height="590.40"/>
<line x1="31.2" x2="230.4" y1="167.10" y2="167.10"/>
<line x1="31.2" x2="230.4" y1="314.70" y2="314.70"/>
<line x1="31.2" x2="230.4" y1="462.30" y2="462.30"/>
<rect x="252.7" y="19.5" width="199.20" height="590.40"/>
<line x1="252.7" x2="451.9" y1="167.10" y2="167.10"/>
<line x1="252.7" x2="451.9" y1="314.70" y2="314.70"/>
<line x1="252.7" x2="451.9" y1="462.30" y2="462.30"/>
</g>
<g stroke="#000" stroke-width="1.1" fill="none">
<path d="M31.2,154.80h3.7M31.2,142.50h7.6M31.2,130.20h3.7M31.2,117.90h3.7M31.2,105.60h3.7M31.2,93.30h7.6M31.2,81.00h3.7M31.2,68.70h3.7M31.2,56.40h3.7M31.2,44.10h7.6M31.2,31.80h3.7M35.98,167.10v-3.6M40.02,167.10v-3.6M43.52,167.10v-3.6M46.60,167.10v-3.6M49.37,167.10v-7.4M67.53,167.10v-3.6M78.16,167.10v-3.6M85.70,167.10v-3.6M91.54,167.10v-3.6M96.32,167.10v-3.6M100.36,167.10v-3.6M103.86,167.10v-3.6M106.95,167.10v-3.6M109.71,167.10v-7.4M127.88,167.10v-3.6M138.50,167.10v-3.6M146.04,167.10v-3.6M151.89,167.10v-3.6M156.67,167.10v-3.6M160.71,167.10v-3.6M164.21,167.10v-3.6M167.29,167.10v-3.6M170.06,167.10v-7.4M188.22,167.10v-3.6M198.85,167.10v-3.6M206.39,167.10v-3.6M212.23,167.10v-3.6M217.01,167.10v-3.6M221.05,167.10v-3.6M224.55,167.10v-3.6M227.64,167.10v-3.6M31.2,302.40h3.7M31.2,290.10h7.6M31.2,277.80h3.7M31.2,265.50h3.7M31.2,253.20h3.7M31.2,240.90h7.6M31.2,228.60h3.7M31.2,216.30h3.7M31.2,204.00h3.7M31.2,191.70h7.6M31.2,179.40h3.7M35.98,314.70v-3.6M40.02,314.70v-3.6M43.52,314.70v-3.6M46.60,314.70v-3.6M49.37,314.70v-7.4M67.53,314.70v-3.6M78.16,314.70v-3.6M85.70,314.70v-3.6M91.54,314.70v-3.6M96.32,314.70v-3.6M100.36,314.70v-3.6M103.86,314.70v-3.6M106.95,314.70v-3.6M109.71,314.70v-7.4M127.88,314.70v-3.6M138.50,314.70v-3.6M146.04,314.70v-3.6M151.89,314.70v-3.6M156.67,314.70v-3.6M160.71,314.70v-3.6M164.21,314.70v-3.6M167.29,314.70v-3.6M170.06,314.70v-7.4M188.22,314.70v-3.6M198.85,314.70v-3.6M206.39,314.70v-3.6M212.23,314.70v-3.6M217.01,314.70v-3.6M221.05,314.70v-3.6M224.55,314.70v-3.6M227.64,314.70v-3.6M31.2,450.00h3.7M31.2,437.70h7.6M31.2,425.40h3.7M31.2,413.10h3.7M31.2,400.80h3.7M31.2,388.50h7.6M31.2,376.20h3.7M31.2,363.90h3.7M31.2,351.60h3.7M31.2,339.30h7.6M31.2,327.00h3.7M35.98,462.30v-3.6M40.02,462.30v-3.6M43.52,462.30v-3.6M46.60,462.30v-3.6M49.37,462.30v-7.4M67.53,462.30v-3.6M78.16,462.30v-3.6M85.70,462.30v-3.6M91.54,462.30v-3.6M96.32,462.30v-3.6M100.36,462.30v-3.6M103.86,462.30v-3.6M106.95,462.30v-3.6M109.71,462.30v-7.4M127.88,462.30v-3.6M138.50,462.30v-3.6M146.04,462.30v-3.6M151.89,462.30v-3.6M156.67,462.30v-3.6M160.71,462.30v-3.6M164.21,462.30v-3.6M167.29,462.30v-3.6M170.06,462.30v-7.4M188.22,462.30v-3.6M198.85,462.30v-3.6M206.39,462.30v-3.6M212.23,462.30v-3.6M217.01,462.30v-3.6M221.05,462.30v-3.6M224.55,462.30v-3.6M227.64,462.30v-3.6M31.2,597.60h3.7M31.2,585.30h7.6M31.2,573.00h3.7M31.2,560.70h3.7M31.2,548.40h3.7M31.2,536.10h7.6M31.2,523.80h3.7M31.2,511.50h3.7M31.2,499.20h3.7M31.2,486.90h7.6M31.2,474.60h3.7M35.98,609.90v-3.6M40.02,609.90v-3.6M43.52,609.90v-3.6M46.60,609.90v-3.6M49.37,609.90v-7.4M67.53,609.90v-3.6M78.16,609.90v-3.6M85.70,609.90v-3.6M91.54,609.90v-3.6M96.32,609.90v-3.6M100.36,609.90v-3.6M103.86,609.90v-3.6M106.95,609.90v-3.6M109.71,609.90v-7.4M127.88,609.90v-3.6M138.50,609.90v-3.6M146.04,609.90v-3.6M151.89,609.90v-3.6M156.67,609.90v-3.6M160.71,609.90v-3.6M164.21,609.90v-3.6M167.29,609.90v-3.6M170.06,609.90v-7.4M188.22,609.90v-3.6M198.85,609.90v-3.6M206.39,609.90v-3.6M212.23,609.90v-3.6M217.01,609.90v-3.6M221.05,609.90v-3.6M224.55,609.90v-3.6M227.64,609.90v-3.6M252.7,154.80h3.7M252.7,142.50h7.6M252.7,130.20h3.7M252.7,117.90h3.7M252.7,105.60h3.7M252.7,93.30h7.6M252.7,81.00h3.7M252.7,68.70h3.7M252.7,56.40h3.7M252.7,44.10h7.6M252.7,31.80h3.7M257.48,167.10v-3.6M261.52,167.10v-3.6M265.02,167.10v-3.6M268.10,167.10v-3.6M270.87,167.10v-7.4M289.03,167.10v-3.6M299.66,167.10v-3.6M307.20,167.10v-3.6M313.04,167.10v-3.6M317.82,167.10v-3.6M321.86,167.10v-3.6M325.36,167.10v-3.6M328.45,167.10v-3.6M331.21,167.10v-7.4M349.38,167.10v-3.6M360.00,167.10v-3.6M367.54,167.10v-3.6M373.39,167.10v-3.6M378.17,167.10v-3.6M382.21,167.10v-3.6M385.71,167.10v-3.6M388.79,167.10v-3.6M391.56,167.10v-7.4M409.72,167.10v-3.6M420.35,167.10v-3.6M427.89,167.10v-3.6M433.73,167.10v-3.6M438.51,167.10v-3.6M442.55,167.10v-3.6M446.05,167.10v-3.6M449.14,167.10v-3.6M252.7,302.40h3.7M252.7,290.10h7.6M252.7,277.80h3.7M252.7,265.50h3.7M252.7,253.20h3.7M252.7,240.90h7.6M252.7,228.60h3.7M252.7,216.30h3.7M252.7,204.00h3.7M252.7,191.70h7.6M252.7,179.40h3.7M257.48,314.70v-3.6M261.52,314.70v-3.6M265.02,314.70v-3.6M268.10,314.70v-3.6M270.87,314.70v-7.4M289.03,314.70v-3.6M299.66,314.70v-3.6M307.20,314.70v-3.6M313.04,314.70v-3.6M317.82,314.70v-3.6M321.86,314.70v-3.6M325.36,314.70v-3.6M328.45,314.70v-3.6M331.21,314.70v-7.4M349.38,314.70v-3.6M360.00,314.70v-3.6M367.54,314.70v-3.6M373.39,314.70v-3.6M378.17,314.70v-3.6M382.21,314.70v-3.6M385.71,314.70v-3.6M388.79,314.70v-3.6M391.56,314.70v-7.4M409.72,314.70v-3.6M420.35,314.70v-3.6M427.89,314.70v-3.6M433.73,314.70v-3.6M438.51,314.70v-3.6M442.55,314.70v-3.6M446.05,314.70v-3.6M449.14,314.70v-3.6M252.7,450.00h3.7M252.7,437.70h7.6M252.7,425.40h3.7M252.7,413.10h3.7M252.7,400.80h3.7M252.7,388.50h7.6M252.7,376.20h3.7M252.7,363.90h3.7M252.7,351.60h3.7M252.7,339.30h7.6M252.7,327.00h3.7M257.48,462.30v-3.6M261.52,462.30v-3.6M265.02,462.30v-3.6M268.10,462.30v-3.6M270.87,462.30v-7.4M289.03,462.30v-3.6M299.66,462.30v-3.6M307.20,462.30v-3.6M313.04,462.30v-3.6M317.82,462.30v-3.6M321.86,462.30v-3.6M325.36,462.30v-3.6M328.45,462.30v-3.6M331.21,462.30v-7.4M349.38,462.30v-3.6M360.00,462.30v-3.6M367.54,462.30v-3.6M373.39,462.30v-3.6M378.17,462.30v-3.6M382.21,462.30v-3.6M385.71,462.30v-3.6M388.79,462.30v-3.6M391.56,462.30v-7.4M409.72,462.30v-3.6M420.35,462.30v-3.6M427.89,462.30v-3.6M433.73,462.30v-3.6M438.51,462.30v-3.6M442.55,462.30v-3.6M446.05,462.30v-3.6M449.14,462.30v-3.6M252.7,597.60h3.7M252.7,585.30h7.6M252.7,573.00h3.7M252.7,560.70h3.7M252.7,548.40h3.7M252.7,536.10h7.6M252.7,523.80h3.7M252.7,511.50h3.7M252.7,499.20h3.7M252.7,486.90h7.6M252.7,474.60h3.7M257.48,609.90v-3.6M261.52,609.90v-3.6M265.02,609.90v-3.6M268.10,609.90v-3.6M270.87,609.90v-7.4M289.03,609.90v-3.6M299.66,609.90v-3.6M307.20,609.90v-3.6M313.04,609.90v-3.6M317.82,609.90v-3.6M321.86,609.90v-3.6M325.36,609.90v-3.6M328.45,609.90v-3.6M331.21,609.90v-7.4M349.38,609.90v-3.6M360.00,609.90v-3.6M367.54,609.90v-3.6M373.39,609.90v-3.6M378.17,609.90v-3.6M382.21,609.90v-3.6M385.71,609.90v-3.6M388.79,609.90v-3.6M391.56,609.90v-7.4M409.72,609.90v-3.6M420.35,609.90v-3.6M427.89,609.90v-3.6M433.73,609.90v-3.6M438.51,609.90v-3.6M442.55,609.90v-3.6M446.05,609.90v-3.6M449.14,609.90v-3.6"/>
</g>
<g style="mix-blend-mode:multiply">
<text x="24.6" y="49.90" font-size="16.4" text-anchor="end">1.2</text>
<text x="24.6" y="99.10" font-size="16.4" text-anchor="end">1</text>
<text x="24.6" y="148.30" font-size="16.4" text-anchor="end">0.8</text>
<text x="24.6" y="197.50" font-size="16.4" text-anchor="end">1.2</text>
<text x="24.6" y="246.70" font-size="16.4" text-anchor="end">1</text>
<text x="24.6" y="295.90" font-size="16.4" text-anchor="end">0.8</text>
<text x="24.6" y="345.10" font-size="16.4" text-anchor="end">1.2</text>
<text x="24.6" y="394.30" font-size="16.4" text-anchor="end">1</text>
<text x="24.6" y="443.50" font-size="16.4" text-anchor="end">0.8</text>
<text x="24.6" y="492.70" font-size="16.4" text-anchor="end">1.2</text>
<text x="24.6" y="541.90" font-size="16.4" text-anchor="end">1</text>
<text x="24.6" y="591.10" font-size="16.4" text-anchor="end">0.8</text>
<text x="50.37" y="629" font-size="16" text-anchor="middle">0.001</text>
<text x="110.71" y="629" font-size="16" text-anchor="middle">0.01</text>
<text x="171.06" y="629" font-size="16" text-anchor="middle">0.1</text>
<text x="231.40" y="629" font-size="16" text-anchor="middle">1</text>
<text x="100.20" y="649.9" font-size="19">X</text>
<text x="112.10" y="654.0" font-size="14.5">B</text>
<text x="131.70" y="650.0" font-size="19.5" style="font-family:'Liberation Serif',serif">(</text>
<text x="137.00" y="650.0" font-size="21" class="s">x</text>
<text x="145.40" y="653.0" font-size="10.3">Pb</text>
<text x="157.20" y="650.0" font-size="19.5" style="font-family:'Liberation Serif',serif">)</text>
<text x="271.87" y="629" font-size="16" text-anchor="middle">0.001</text>
<text x="332.21" y="629" font-size="16" text-anchor="middle">0.01</text>
<text x="392.56" y="629" font-size="16" text-anchor="middle">0.1</text>
<text x="452.90" y="629" font-size="16" text-anchor="middle">1</text>
<text x="321.70" y="649.9" font-size="19">X</text>
<text x="333.60" y="654.0" font-size="14.5">B</text>
<text x="353.20" y="650.0" font-size="19.5" style="font-family:'Liberation Serif',serif">(</text>
<text x="358.50" y="650.0" font-size="21" class="s">x</text>
<text x="366.90" y="653.0" font-size="10.3">Pb</text>
<text x="378.70" y="650.0" font-size="19.5" style="font-family:'Liberation Serif',serif">)</text>
<text x="107.1" y="11.1" font-size="13">X</text>
<text x="115.69999999999999" y="16.0" font-size="10">A</text>
<text x="122.0" y="11.1" font-size="13">~0.1</text>
<text x="331.4" y="11.1" font-size="13">X</text>
<text x="340.0" y="16.0" font-size="10">A</text>
<text x="346.29999999999995" y="11.1" font-size="13">~0.01</text>
<text x="43.6" y="39.0" font-size="13.3" class="p">(A1)</text>
<text x="45.0" y="189.0" font-size="13.3" class="p">(A2)</text>
<text x="43.6" y="335.0" font-size="13.3" class="p">(A3)</text>
<text x="43.6" y="481.5" font-size="13.3" class="p">(A4)</text>
<text x="263.4" y="74.4" font-size="13.3" class="p">(B1)</text>
<text x="266.3" y="185.7" font-size="13.3" class="p">(B2)</text>
<text x="265.0" y="335.3" font-size="13.3" class="p">(B3)</text>
<text x="264.4" y="481.2" font-size="13.3" class="p">(B4)</text>
<text x="263.8" y="37.8" font-size="17.5" class="s">R</text>
<text x="274.2" y="41.4" font-size="10.5">pPb</text>
<text x="293.6" y="37.7" font-size="16.5" style="font-family:'Liberation Serif',serif">:</text>
<circle cx="270.90" cy="54.00" r="2.75" fill="#ff9590" stroke="#ff1199" stroke-width="1.5"/>
<text x="286" y="57.9" font-size="12.4">EPPS</text>
<path d="M271.80,198.20L275.25,204.20L268.35,204.20Z" fill="#ffcc00" stroke="#ffa500" stroke-width="1.3" stroke-linejoin="miter"/>
<text x="286.4" y="205.8" font-size="12.3">nCTEQ</text>
<path d="M271.80,345.50L275.30,349.00L271.80,352.50L268.30,349.00Z" fill="#dcdcff" stroke="#6464ff" stroke-width="1.3"/>
<text x="287.1" y="352.9" font-size="12.5">TUJU</text>
<rect x="268.05" y="495.35" width="4.70" height="4.70" fill="#d4f5d4" stroke="#14d214" stroke-width="1.4"/>
<text x="285.5" y="500.9" font-size="12.4">nIMP (LO)</text>
<line x1="352.7" x2="391" y1="33.4" y2="33.4" stroke="#ff1199" stroke-width="1.3"/>
<line x1="352.7" x2="391" y1="57.8" y2="57.8" stroke="#ff1199" stroke-width="1.3" stroke-dasharray="6 3"/>
<text x="398.4" y="37.9" font-size="23.5" class="s">r</text>
<text x="409.2" y="30.5" font-size="11.6">Pb</text>
<text x="407.4" y="42.0" font-size="13.4">gluon</text>
<text x="398.4" y="63.9" font-size="23.5" class="s">r</text>
<text x="409.2" y="56.9" font-size="11.6">Pb</text>
<text x="407.4" y="68.2" font-size="13.4">quark</text>
</g>
</svg>
</body></html>
